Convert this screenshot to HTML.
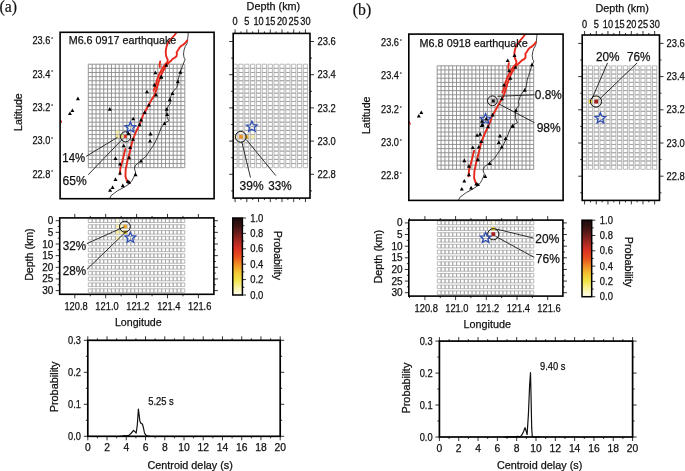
<!DOCTYPE html><html><head><meta charset="utf-8"><style>html,body{margin:0;padding:0;background:#fff;overflow:hidden}svg{display:block;will-change:transform}</style></head><body>
<svg width="685" height="471" viewBox="0 0 685 471" shape-rendering="auto">
<rect width="685" height="471" fill="#fff"/>
<clipPath id="cma"><rect x="60.1" y="32.3" width="154" height="166.4"/></clipPath>
<g clip-path="url(#cma)">
<path d="M88.3 64.2V167.7M92.16 64.2V167.7M96.02 64.2V167.7M99.88 64.2V167.7M103.74 64.2V167.7M107.6 64.2V167.7M111.46 64.2V167.7M115.32 64.2V167.7M119.18 64.2V167.7M123.04 64.2V167.7M126.9 64.2V167.7M130.76 64.2V167.7M134.62 64.2V167.7M138.48 64.2V167.7M142.34 64.2V167.7M146.2 64.2V167.7M150.06 64.2V167.7M153.92 64.2V167.7M157.78 64.2V167.7M161.64 64.2V167.7M165.5 64.2V167.7M169.36 64.2V167.7M173.22 64.2V167.7M177.08 64.2V167.7M180.94 64.2V167.7M184.8 64.2V167.7M88.3 64.2H184.8M88.3 68.34H184.8M88.3 72.48H184.8M88.3 76.62H184.8M88.3 80.76H184.8M88.3 84.9H184.8M88.3 89.04H184.8M88.3 93.18H184.8M88.3 97.32H184.8M88.3 101.46H184.8M88.3 105.6H184.8M88.3 109.74H184.8M88.3 113.88H184.8M88.3 118.02H184.8M88.3 122.16H184.8M88.3 126.3H184.8M88.3 130.44H184.8M88.3 134.58H184.8M88.3 138.72H184.8M88.3 142.86H184.8M88.3 147H184.8M88.3 151.14H184.8M88.3 155.28H184.8M88.3 159.42H184.8M88.3 163.56H184.8M88.3 167.7H184.8" fill="none" stroke="#8a8a8a" stroke-width="0.9"/>
<rect x="116.1" y="130.5" width="3" height="3.2" fill="#f6eea0"/>
<rect x="116.1" y="134.8" width="3" height="3.2" fill="#f4e890"/>
<rect x="120" y="134.8" width="3" height="3.2" fill="#f0e27a"/>
<rect x="123.9" y="134.8" width="3" height="3.2" fill="#e23a22"/>
<polyline points="188.2,32.5 188.1,35 187.5,40.7 186.9,43.6 185.2,46.5 184.1,49.9 183.5,53.9 184.1,57.9 185.2,59.1 184.1,62 182.5,66.1 180.9,70.4 179.8,74.6 179.4,75 178.3,79.2 177.8,83.5 176.7,87.7 174.6,89.9 172.5,92.5 170.9,96.2 169.8,100 170.4,103.7 168.2,105.8 167.2,109 166.6,113.2 167.2,117.5 168.8,120.7 166.1,122.3 164.4,123.4 161.1,127.6 159.4,132.7 156.8,138.7 153.4,145.5 149.2,151.4 145.8,156.5 141.6,160 139,162.5 135.7,165.1 134.4,168.1 134.8,170.2 135.7,171.9 134.4,175.7 133.5,177.8 131.8,180.8 129.3,183.8 125.5,186.3 122.1,188.4 117.8,190.6 114.4,193.1 111,195.7 109.8,198.6" fill="none" stroke="#111" stroke-width="0.8" stroke-linejoin="round" stroke-linecap="round" />
<polyline points="176.5,32.5 174.6,35 169.7,40.7 167.5,43.6 166.3,47.6 165.7,51.6 166,55.6 166.9,57.9 167.7,59.7 167.5,62 165.5,64 162.8,67.7 160.7,71.4 158.6,75.7 157,80 156,84 154.8,88 153.6,90.6" fill="none" stroke="#e8271b" stroke-width="1.9" stroke-linejoin="round" stroke-linecap="round" />
<polyline points="187.2,40.4 185.2,43 182.9,45 181.2,45.9 179.8,47.3 178.9,48.8 177.8,50.5 176.6,52.2 176.9,53.9 176.6,56.2 174.9,57.6 173.2,58.5 171.5,60.2 169.7,61.9 167.1,64.5 165,67.7 162.8,71.4 161.3,75 159.2,80.3 157.6,85.6 156,90.9 154.4,95.2 151.8,99.4 149.1,104.2 146.5,109 144.3,112.7 142.7,115.9 141.5,120 139,125.9 136.4,131 133.9,137 132.2,142.1 130.5,148.9 128.8,155.7 127.1,162.5 125.7,169.3 125.4,176.1 126.7,180.3 128.8,182.8" fill="none" stroke="#e8271b" stroke-width="1.9" stroke-linejoin="round" stroke-linecap="round" />
<polyline points="160.2,61.5 159.6,64.5 159.8,67" fill="none" stroke="#e8271b" stroke-width="1.9" stroke-linejoin="round" stroke-linecap="round" />
<polyline points="125.4,148.9 123.7,155.7 122,162.5 120.3,168.4 119.9,174.4" fill="none" stroke="#e8271b" stroke-width="1.9" stroke-linejoin="round" stroke-linecap="round" />
<polyline points="60.6,120.2 61.4,122.2" fill="none" stroke="#e8271b" stroke-width="1.4" stroke-linejoin="round" stroke-linecap="round" />
<path d="M130.4 121.9L131.88 125.46L135.73 125.77L132.8 128.28L133.69 132.03L130.4 130.02L127.11 132.03L128 128.28L125.07 125.77L128.92 125.46Z" fill="none" stroke="#2c4cb0" stroke-width="1.25" stroke-linejoin="miter"/>
<path d="M126.2 135.2L130.2 135.2L128.2 131.6Z" fill="#000"/>
<path d="M164.3 66.8L168.3 66.8L166.3 63.2Z" fill="#000"/>
<path d="M153.4 74.3L157.4 74.3L155.4 70.7Z" fill="#000"/>
<path d="M159.2 78.5L163.2 78.5L161.2 74.9Z" fill="#000"/>
<path d="M178.4 73.7L182.4 73.7L180.4 70.1Z" fill="#000"/>
<path d="M152.4 86.4L156.4 86.4L154.4 82.8Z" fill="#000"/>
<path d="M145 93.3L149 93.3L147 89.7Z" fill="#000"/>
<path d="M154 96.4L158 96.4L156 92.8Z" fill="#000"/>
<path d="M159.3 78.4L163.3 78.4L161.3 74.8Z" fill="#000"/>
<path d="M175.8 83.2L179.8 83.2L177.8 79.6Z" fill="#000"/>
<path d="M170.5 94.9L174.5 94.9L172.5 91.3Z" fill="#000"/>
<path d="M167.8 101.2L171.8 101.2L169.8 97.6Z" fill="#000"/>
<path d="M146.9 106.5L150.9 106.5L148.9 102.9Z" fill="#000"/>
<path d="M142.7 114L146.7 114L144.7 110.4Z" fill="#000"/>
<path d="M164.6 110.8L168.6 110.8L166.6 107.2Z" fill="#000"/>
<path d="M165.2 116.1L169.2 116.1L167.2 112.5Z" fill="#000"/>
<path d="M131.2 120.3L135.2 120.3L133.2 116.7Z" fill="#000"/>
<path d="M139.1 121.4L143.1 121.4L141.1 117.8Z" fill="#000"/>
<path d="M162.5 125.1L166.5 125.1L164.5 121.5Z" fill="#000"/>
<path d="M137.6 126.2L141.6 126.2L139.6 122.6Z" fill="#000"/>
<path d="M70.4 112L74.4 112L72.4 108.4Z" fill="#000"/>
<path d="M67.9 115L71.9 115L69.9 111.4Z" fill="#000"/>
<path d="M107.8 110.7L111.8 110.7L109.8 107.1Z" fill="#000"/>
<path d="M75.9 100.2L79.9 100.2L77.9 96.6Z" fill="#000"/>
<path d="M131 140.8L135 140.8L133 137.2Z" fill="#000"/>
<path d="M121.7 147.3L125.7 147.3L123.7 143.7Z" fill="#000"/>
<path d="M128.1 149L132.1 149L130.1 145.4Z" fill="#000"/>
<path d="M148.5 135.4L152.5 135.4L150.5 131.8Z" fill="#000"/>
<path d="M148 142.5L152 142.5L150 138.9Z" fill="#000"/>
<path d="M113.5 160L117.5 160L115.5 156.4Z" fill="#000"/>
<path d="M127.1 159.2L131.1 159.2L129.1 155.6Z" fill="#000"/>
<path d="M118 165.6L122 165.6L120 162Z" fill="#000"/>
<path d="M139 162.6L143 162.6L141 159Z" fill="#000"/>
<path d="M133.6 176.2L137.6 176.2L135.6 172.6Z" fill="#000"/>
<path d="M118 174.5L122 174.5L120 170.9Z" fill="#000"/>
<path d="M113.5 180.9L117.5 180.9L115.5 177.3Z" fill="#000"/>
<path d="M125.9 182.9L129.9 182.9L127.9 179.3Z" fill="#000"/>
<path d="M127.1 183.8L131.1 183.8L129.1 180.2Z" fill="#000"/>
<path d="M120.8 187.2L124.8 187.2L122.8 183.6Z" fill="#000"/>
<path d="M110.6 188.9L114.6 188.9L112.6 185.3Z" fill="#000"/>
<path d="M108.1 191.8L112.1 191.8L110.1 188.2Z" fill="#000"/>
</g>
<rect x="60.1" y="32.3" width="154" height="166.4" fill="none" stroke="#000" stroke-width="1.6"/>
<text x="68.7" y="44.3" font-size="10.9" font-family='"Liberation Sans", sans-serif' fill="#111" stroke="#111" stroke-width="0.25" textLength="107.6" lengthAdjust="spacingAndGlyphs" >M6.6 0917 earthquake</text>
<text x="50.3" y="44.2" font-size="10.4" font-family='"Liberation Sans", sans-serif' fill="#111" stroke="#111" stroke-width="0.25" text-anchor="end" textLength="17.9" lengthAdjust="spacingAndGlyphs" >23.6</text>
<text x="51.1" y="41" font-size="5.5" font-family='"Liberation Sans", sans-serif' fill="#111" stroke="#111" stroke-width="0.1" >°</text>
<text x="50.3" y="77.55" font-size="10.4" font-family='"Liberation Sans", sans-serif' fill="#111" stroke="#111" stroke-width="0.25" text-anchor="end" textLength="17.9" lengthAdjust="spacingAndGlyphs" >23.4</text>
<text x="51.1" y="74.35" font-size="5.5" font-family='"Liberation Sans", sans-serif' fill="#111" stroke="#111" stroke-width="0.1" >°</text>
<text x="50.3" y="110.9" font-size="10.4" font-family='"Liberation Sans", sans-serif' fill="#111" stroke="#111" stroke-width="0.25" text-anchor="end" textLength="17.9" lengthAdjust="spacingAndGlyphs" >23.2</text>
<text x="51.1" y="107.7" font-size="5.5" font-family='"Liberation Sans", sans-serif' fill="#111" stroke="#111" stroke-width="0.1" >°</text>
<text x="50.3" y="144.25" font-size="10.4" font-family='"Liberation Sans", sans-serif' fill="#111" stroke="#111" stroke-width="0.25" text-anchor="end" textLength="17.9" lengthAdjust="spacingAndGlyphs" >23.0</text>
<text x="51.1" y="141.05" font-size="5.5" font-family='"Liberation Sans", sans-serif' fill="#111" stroke="#111" stroke-width="0.1" >°</text>
<text x="50.3" y="177.6" font-size="10.4" font-family='"Liberation Sans", sans-serif' fill="#111" stroke="#111" stroke-width="0.25" text-anchor="end" textLength="17.9" lengthAdjust="spacingAndGlyphs" >22.8</text>
<text x="51.1" y="174.4" font-size="5.5" font-family='"Liberation Sans", sans-serif' fill="#111" stroke="#111" stroke-width="0.1" >°</text>
<text x="22" y="112.1" font-size="10.8" font-family='"Liberation Sans", sans-serif' fill="#111" stroke="#111" stroke-width="0.25" text-anchor="middle" textLength="37.6" lengthAdjust="spacingAndGlyphs" transform="rotate(-90 22 112.1)" >Latitude</text>
<line x1="86.2" y1="156.3" x2="117.4" y2="137.4" stroke="#1a1a1a" stroke-width="0.9"/>
<line x1="88.2" y1="174.8" x2="122.4" y2="139.2" stroke="#1a1a1a" stroke-width="0.9"/>
<circle cx="125.6" cy="136.8" r="5.1" fill="none" stroke="#000" stroke-width="0.9"/>
<text x="62.3" y="162" font-size="12.8" font-family='"Liberation Sans", sans-serif' fill="#111" stroke="#111" stroke-width="0.25" textLength="22.8" lengthAdjust="spacingAndGlyphs" >14%</text>
<text x="62.5" y="184.5" font-size="12.8" font-family='"Liberation Sans", sans-serif' fill="#111" stroke="#111" stroke-width="0.25" textLength="24.2" lengthAdjust="spacingAndGlyphs" >65%</text>
<clipPath id="cda"><rect x="233.2" y="33.4" width="76.8" height="164.7"/></clipPath>
<g clip-path="url(#cda)">
<path d="M232.97 64.2h4.25v4.14h-4.25ZM232.97 68.34h4.25v4.14h-4.25ZM232.97 72.48h4.25v4.14h-4.25ZM232.97 76.62h4.25v4.14h-4.25ZM232.97 80.76h4.25v4.14h-4.25ZM232.97 84.9h4.25v4.14h-4.25ZM232.97 89.04h4.25v4.14h-4.25ZM232.97 93.18h4.25v4.14h-4.25ZM232.97 97.32h4.25v4.14h-4.25ZM232.97 101.46h4.25v4.14h-4.25ZM232.97 105.6h4.25v4.14h-4.25ZM232.97 109.74h4.25v4.14h-4.25ZM232.97 113.88h4.25v4.14h-4.25ZM232.97 118.02h4.25v4.14h-4.25ZM232.97 122.16h4.25v4.14h-4.25ZM232.97 126.3h4.25v4.14h-4.25ZM232.97 130.44h4.25v4.14h-4.25ZM232.97 134.58h4.25v4.14h-4.25ZM232.97 138.72h4.25v4.14h-4.25ZM232.97 142.86h4.25v4.14h-4.25ZM232.97 147h4.25v4.14h-4.25ZM232.97 151.14h4.25v4.14h-4.25ZM232.97 155.28h4.25v4.14h-4.25ZM232.97 159.42h4.25v4.14h-4.25ZM232.97 163.56h4.25v4.14h-4.25ZM238.84 64.2h4.25v4.14h-4.25ZM238.84 68.34h4.25v4.14h-4.25ZM238.84 72.48h4.25v4.14h-4.25ZM238.84 76.62h4.25v4.14h-4.25ZM238.84 80.76h4.25v4.14h-4.25ZM238.84 84.9h4.25v4.14h-4.25ZM238.84 89.04h4.25v4.14h-4.25ZM238.84 93.18h4.25v4.14h-4.25ZM238.84 97.32h4.25v4.14h-4.25ZM238.84 101.46h4.25v4.14h-4.25ZM238.84 105.6h4.25v4.14h-4.25ZM238.84 109.74h4.25v4.14h-4.25ZM238.84 113.88h4.25v4.14h-4.25ZM238.84 118.02h4.25v4.14h-4.25ZM238.84 122.16h4.25v4.14h-4.25ZM238.84 126.3h4.25v4.14h-4.25ZM238.84 130.44h4.25v4.14h-4.25ZM238.84 134.58h4.25v4.14h-4.25ZM238.84 138.72h4.25v4.14h-4.25ZM238.84 142.86h4.25v4.14h-4.25ZM238.84 147h4.25v4.14h-4.25ZM238.84 151.14h4.25v4.14h-4.25ZM238.84 155.28h4.25v4.14h-4.25ZM238.84 159.42h4.25v4.14h-4.25ZM238.84 163.56h4.25v4.14h-4.25ZM244.7 64.2h4.25v4.14h-4.25ZM244.7 68.34h4.25v4.14h-4.25ZM244.7 72.48h4.25v4.14h-4.25ZM244.7 76.62h4.25v4.14h-4.25ZM244.7 80.76h4.25v4.14h-4.25ZM244.7 84.9h4.25v4.14h-4.25ZM244.7 89.04h4.25v4.14h-4.25ZM244.7 93.18h4.25v4.14h-4.25ZM244.7 97.32h4.25v4.14h-4.25ZM244.7 101.46h4.25v4.14h-4.25ZM244.7 105.6h4.25v4.14h-4.25ZM244.7 109.74h4.25v4.14h-4.25ZM244.7 113.88h4.25v4.14h-4.25ZM244.7 118.02h4.25v4.14h-4.25ZM244.7 122.16h4.25v4.14h-4.25ZM244.7 126.3h4.25v4.14h-4.25ZM244.7 130.44h4.25v4.14h-4.25ZM244.7 134.58h4.25v4.14h-4.25ZM244.7 138.72h4.25v4.14h-4.25ZM244.7 142.86h4.25v4.14h-4.25ZM244.7 147h4.25v4.14h-4.25ZM244.7 151.14h4.25v4.14h-4.25ZM244.7 155.28h4.25v4.14h-4.25ZM244.7 159.42h4.25v4.14h-4.25ZM244.7 163.56h4.25v4.14h-4.25ZM250.56 64.2h4.25v4.14h-4.25ZM250.56 68.34h4.25v4.14h-4.25ZM250.56 72.48h4.25v4.14h-4.25ZM250.56 76.62h4.25v4.14h-4.25ZM250.56 80.76h4.25v4.14h-4.25ZM250.56 84.9h4.25v4.14h-4.25ZM250.56 89.04h4.25v4.14h-4.25ZM250.56 93.18h4.25v4.14h-4.25ZM250.56 97.32h4.25v4.14h-4.25ZM250.56 101.46h4.25v4.14h-4.25ZM250.56 105.6h4.25v4.14h-4.25ZM250.56 109.74h4.25v4.14h-4.25ZM250.56 113.88h4.25v4.14h-4.25ZM250.56 118.02h4.25v4.14h-4.25ZM250.56 122.16h4.25v4.14h-4.25ZM250.56 126.3h4.25v4.14h-4.25ZM250.56 130.44h4.25v4.14h-4.25ZM250.56 134.58h4.25v4.14h-4.25ZM250.56 138.72h4.25v4.14h-4.25ZM250.56 142.86h4.25v4.14h-4.25ZM250.56 147h4.25v4.14h-4.25ZM250.56 151.14h4.25v4.14h-4.25ZM250.56 155.28h4.25v4.14h-4.25ZM250.56 159.42h4.25v4.14h-4.25ZM250.56 163.56h4.25v4.14h-4.25ZM256.43 64.2h4.25v4.14h-4.25ZM256.43 68.34h4.25v4.14h-4.25ZM256.43 72.48h4.25v4.14h-4.25ZM256.43 76.62h4.25v4.14h-4.25ZM256.43 80.76h4.25v4.14h-4.25ZM256.43 84.9h4.25v4.14h-4.25ZM256.43 89.04h4.25v4.14h-4.25ZM256.43 93.18h4.25v4.14h-4.25ZM256.43 97.32h4.25v4.14h-4.25ZM256.43 101.46h4.25v4.14h-4.25ZM256.43 105.6h4.25v4.14h-4.25ZM256.43 109.74h4.25v4.14h-4.25ZM256.43 113.88h4.25v4.14h-4.25ZM256.43 118.02h4.25v4.14h-4.25ZM256.43 122.16h4.25v4.14h-4.25ZM256.43 126.3h4.25v4.14h-4.25ZM256.43 130.44h4.25v4.14h-4.25ZM256.43 134.58h4.25v4.14h-4.25ZM256.43 138.72h4.25v4.14h-4.25ZM256.43 142.86h4.25v4.14h-4.25ZM256.43 147h4.25v4.14h-4.25ZM256.43 151.14h4.25v4.14h-4.25ZM256.43 155.28h4.25v4.14h-4.25ZM256.43 159.42h4.25v4.14h-4.25ZM256.43 163.56h4.25v4.14h-4.25ZM262.29 64.2h4.25v4.14h-4.25ZM262.29 68.34h4.25v4.14h-4.25ZM262.29 72.48h4.25v4.14h-4.25ZM262.29 76.62h4.25v4.14h-4.25ZM262.29 80.76h4.25v4.14h-4.25ZM262.29 84.9h4.25v4.14h-4.25ZM262.29 89.04h4.25v4.14h-4.25ZM262.29 93.18h4.25v4.14h-4.25ZM262.29 97.32h4.25v4.14h-4.25ZM262.29 101.46h4.25v4.14h-4.25ZM262.29 105.6h4.25v4.14h-4.25ZM262.29 109.74h4.25v4.14h-4.25ZM262.29 113.88h4.25v4.14h-4.25ZM262.29 118.02h4.25v4.14h-4.25ZM262.29 122.16h4.25v4.14h-4.25ZM262.29 126.3h4.25v4.14h-4.25ZM262.29 130.44h4.25v4.14h-4.25ZM262.29 134.58h4.25v4.14h-4.25ZM262.29 138.72h4.25v4.14h-4.25ZM262.29 142.86h4.25v4.14h-4.25ZM262.29 147h4.25v4.14h-4.25ZM262.29 151.14h4.25v4.14h-4.25ZM262.29 155.28h4.25v4.14h-4.25ZM262.29 159.42h4.25v4.14h-4.25ZM262.29 163.56h4.25v4.14h-4.25ZM268.15 64.2h4.25v4.14h-4.25ZM268.15 68.34h4.25v4.14h-4.25ZM268.15 72.48h4.25v4.14h-4.25ZM268.15 76.62h4.25v4.14h-4.25ZM268.15 80.76h4.25v4.14h-4.25ZM268.15 84.9h4.25v4.14h-4.25ZM268.15 89.04h4.25v4.14h-4.25ZM268.15 93.18h4.25v4.14h-4.25ZM268.15 97.32h4.25v4.14h-4.25ZM268.15 101.46h4.25v4.14h-4.25ZM268.15 105.6h4.25v4.14h-4.25ZM268.15 109.74h4.25v4.14h-4.25ZM268.15 113.88h4.25v4.14h-4.25ZM268.15 118.02h4.25v4.14h-4.25ZM268.15 122.16h4.25v4.14h-4.25ZM268.15 126.3h4.25v4.14h-4.25ZM268.15 130.44h4.25v4.14h-4.25ZM268.15 134.58h4.25v4.14h-4.25ZM268.15 138.72h4.25v4.14h-4.25ZM268.15 142.86h4.25v4.14h-4.25ZM268.15 147h4.25v4.14h-4.25ZM268.15 151.14h4.25v4.14h-4.25ZM268.15 155.28h4.25v4.14h-4.25ZM268.15 159.42h4.25v4.14h-4.25ZM268.15 163.56h4.25v4.14h-4.25ZM274.01 64.2h4.25v4.14h-4.25ZM274.01 68.34h4.25v4.14h-4.25ZM274.01 72.48h4.25v4.14h-4.25ZM274.01 76.62h4.25v4.14h-4.25ZM274.01 80.76h4.25v4.14h-4.25ZM274.01 84.9h4.25v4.14h-4.25ZM274.01 89.04h4.25v4.14h-4.25ZM274.01 93.18h4.25v4.14h-4.25ZM274.01 97.32h4.25v4.14h-4.25ZM274.01 101.46h4.25v4.14h-4.25ZM274.01 105.6h4.25v4.14h-4.25ZM274.01 109.74h4.25v4.14h-4.25ZM274.01 113.88h4.25v4.14h-4.25ZM274.01 118.02h4.25v4.14h-4.25ZM274.01 122.16h4.25v4.14h-4.25ZM274.01 126.3h4.25v4.14h-4.25ZM274.01 130.44h4.25v4.14h-4.25ZM274.01 134.58h4.25v4.14h-4.25ZM274.01 138.72h4.25v4.14h-4.25ZM274.01 142.86h4.25v4.14h-4.25ZM274.01 147h4.25v4.14h-4.25ZM274.01 151.14h4.25v4.14h-4.25ZM274.01 155.28h4.25v4.14h-4.25ZM274.01 159.42h4.25v4.14h-4.25ZM274.01 163.56h4.25v4.14h-4.25ZM279.88 64.2h4.25v4.14h-4.25ZM279.88 68.34h4.25v4.14h-4.25ZM279.88 72.48h4.25v4.14h-4.25ZM279.88 76.62h4.25v4.14h-4.25ZM279.88 80.76h4.25v4.14h-4.25ZM279.88 84.9h4.25v4.14h-4.25ZM279.88 89.04h4.25v4.14h-4.25ZM279.88 93.18h4.25v4.14h-4.25ZM279.88 97.32h4.25v4.14h-4.25ZM279.88 101.46h4.25v4.14h-4.25ZM279.88 105.6h4.25v4.14h-4.25ZM279.88 109.74h4.25v4.14h-4.25ZM279.88 113.88h4.25v4.14h-4.25ZM279.88 118.02h4.25v4.14h-4.25ZM279.88 122.16h4.25v4.14h-4.25ZM279.88 126.3h4.25v4.14h-4.25ZM279.88 130.44h4.25v4.14h-4.25ZM279.88 134.58h4.25v4.14h-4.25ZM279.88 138.72h4.25v4.14h-4.25ZM279.88 142.86h4.25v4.14h-4.25ZM279.88 147h4.25v4.14h-4.25ZM279.88 151.14h4.25v4.14h-4.25ZM279.88 155.28h4.25v4.14h-4.25ZM279.88 159.42h4.25v4.14h-4.25ZM279.88 163.56h4.25v4.14h-4.25ZM285.74 64.2h4.25v4.14h-4.25ZM285.74 68.34h4.25v4.14h-4.25ZM285.74 72.48h4.25v4.14h-4.25ZM285.74 76.62h4.25v4.14h-4.25ZM285.74 80.76h4.25v4.14h-4.25ZM285.74 84.9h4.25v4.14h-4.25ZM285.74 89.04h4.25v4.14h-4.25ZM285.74 93.18h4.25v4.14h-4.25ZM285.74 97.32h4.25v4.14h-4.25ZM285.74 101.46h4.25v4.14h-4.25ZM285.74 105.6h4.25v4.14h-4.25ZM285.74 109.74h4.25v4.14h-4.25ZM285.74 113.88h4.25v4.14h-4.25ZM285.74 118.02h4.25v4.14h-4.25ZM285.74 122.16h4.25v4.14h-4.25ZM285.74 126.3h4.25v4.14h-4.25ZM285.74 130.44h4.25v4.14h-4.25ZM285.74 134.58h4.25v4.14h-4.25ZM285.74 138.72h4.25v4.14h-4.25ZM285.74 142.86h4.25v4.14h-4.25ZM285.74 147h4.25v4.14h-4.25ZM285.74 151.14h4.25v4.14h-4.25ZM285.74 155.28h4.25v4.14h-4.25ZM285.74 159.42h4.25v4.14h-4.25ZM285.74 163.56h4.25v4.14h-4.25ZM291.6 64.2h4.25v4.14h-4.25ZM291.6 68.34h4.25v4.14h-4.25ZM291.6 72.48h4.25v4.14h-4.25ZM291.6 76.62h4.25v4.14h-4.25ZM291.6 80.76h4.25v4.14h-4.25ZM291.6 84.9h4.25v4.14h-4.25ZM291.6 89.04h4.25v4.14h-4.25ZM291.6 93.18h4.25v4.14h-4.25ZM291.6 97.32h4.25v4.14h-4.25ZM291.6 101.46h4.25v4.14h-4.25ZM291.6 105.6h4.25v4.14h-4.25ZM291.6 109.74h4.25v4.14h-4.25ZM291.6 113.88h4.25v4.14h-4.25ZM291.6 118.02h4.25v4.14h-4.25ZM291.6 122.16h4.25v4.14h-4.25ZM291.6 126.3h4.25v4.14h-4.25ZM291.6 130.44h4.25v4.14h-4.25ZM291.6 134.58h4.25v4.14h-4.25ZM291.6 138.72h4.25v4.14h-4.25ZM291.6 142.86h4.25v4.14h-4.25ZM291.6 147h4.25v4.14h-4.25ZM291.6 151.14h4.25v4.14h-4.25ZM291.6 155.28h4.25v4.14h-4.25ZM291.6 159.42h4.25v4.14h-4.25ZM291.6 163.56h4.25v4.14h-4.25ZM297.46 64.2h4.25v4.14h-4.25ZM297.46 68.34h4.25v4.14h-4.25ZM297.46 72.48h4.25v4.14h-4.25ZM297.46 76.62h4.25v4.14h-4.25ZM297.46 80.76h4.25v4.14h-4.25ZM297.46 84.9h4.25v4.14h-4.25ZM297.46 89.04h4.25v4.14h-4.25ZM297.46 93.18h4.25v4.14h-4.25ZM297.46 97.32h4.25v4.14h-4.25ZM297.46 101.46h4.25v4.14h-4.25ZM297.46 105.6h4.25v4.14h-4.25ZM297.46 109.74h4.25v4.14h-4.25ZM297.46 113.88h4.25v4.14h-4.25ZM297.46 118.02h4.25v4.14h-4.25ZM297.46 122.16h4.25v4.14h-4.25ZM297.46 126.3h4.25v4.14h-4.25ZM297.46 130.44h4.25v4.14h-4.25ZM297.46 134.58h4.25v4.14h-4.25ZM297.46 138.72h4.25v4.14h-4.25ZM297.46 142.86h4.25v4.14h-4.25ZM297.46 147h4.25v4.14h-4.25ZM297.46 151.14h4.25v4.14h-4.25ZM297.46 155.28h4.25v4.14h-4.25ZM297.46 159.42h4.25v4.14h-4.25ZM297.46 163.56h4.25v4.14h-4.25ZM303.32 64.2h4.25v4.14h-4.25ZM303.32 68.34h4.25v4.14h-4.25ZM303.32 72.48h4.25v4.14h-4.25ZM303.32 76.62h4.25v4.14h-4.25ZM303.32 80.76h4.25v4.14h-4.25ZM303.32 84.9h4.25v4.14h-4.25ZM303.32 89.04h4.25v4.14h-4.25ZM303.32 93.18h4.25v4.14h-4.25ZM303.32 97.32h4.25v4.14h-4.25ZM303.32 101.46h4.25v4.14h-4.25ZM303.32 105.6h4.25v4.14h-4.25ZM303.32 109.74h4.25v4.14h-4.25ZM303.32 113.88h4.25v4.14h-4.25ZM303.32 118.02h4.25v4.14h-4.25ZM303.32 122.16h4.25v4.14h-4.25ZM303.32 126.3h4.25v4.14h-4.25ZM303.32 130.44h4.25v4.14h-4.25ZM303.32 134.58h4.25v4.14h-4.25ZM303.32 138.72h4.25v4.14h-4.25ZM303.32 142.86h4.25v4.14h-4.25ZM303.32 147h4.25v4.14h-4.25ZM303.32 151.14h4.25v4.14h-4.25ZM303.32 155.28h4.25v4.14h-4.25ZM303.32 159.42h4.25v4.14h-4.25ZM303.32 163.56h4.25v4.14h-4.25Z" fill="none" stroke="#9c9c9c" stroke-width="0.7"/>
<rect x="239.1" y="135.1" width="3.8" height="3.6" fill="#f09224"/>
<rect x="245.15" y="135.2" width="3.4" height="3.4" fill="#e9b233"/>
<rect x="250.9" y="135.2" width="3.6" height="3.4" fill="#f8f0a8"/>
<rect x="239.2" y="131.2" width="3.6" height="3" fill="#fbf6dc"/>
<rect x="233.4" y="135.2" width="3.6" height="3.4" fill="#f8f0b8"/>
</g>
<rect x="233.2" y="33.4" width="76.8" height="164.7" fill="none" stroke="#000" stroke-width="1.6"/>
<line x1="235.1" y1="33.4" x2="235.1" y2="29.4" stroke="#000" stroke-width="0.8"/>
<line x1="235.1" y1="198.1" x2="235.1" y2="202.1" stroke="#000" stroke-width="0.8"/>
<line x1="240.96" y1="33.4" x2="240.96" y2="31.4" stroke="#000" stroke-width="0.8"/>
<line x1="240.96" y1="198.1" x2="240.96" y2="200.1" stroke="#000" stroke-width="0.8"/>
<line x1="246.82" y1="33.4" x2="246.82" y2="29.4" stroke="#000" stroke-width="0.8"/>
<line x1="246.82" y1="198.1" x2="246.82" y2="202.1" stroke="#000" stroke-width="0.8"/>
<line x1="252.69" y1="33.4" x2="252.69" y2="31.4" stroke="#000" stroke-width="0.8"/>
<line x1="252.69" y1="198.1" x2="252.69" y2="200.1" stroke="#000" stroke-width="0.8"/>
<line x1="258.55" y1="33.4" x2="258.55" y2="29.4" stroke="#000" stroke-width="0.8"/>
<line x1="258.55" y1="198.1" x2="258.55" y2="202.1" stroke="#000" stroke-width="0.8"/>
<line x1="264.41" y1="33.4" x2="264.41" y2="31.4" stroke="#000" stroke-width="0.8"/>
<line x1="264.41" y1="198.1" x2="264.41" y2="200.1" stroke="#000" stroke-width="0.8"/>
<line x1="270.27" y1="33.4" x2="270.27" y2="29.4" stroke="#000" stroke-width="0.8"/>
<line x1="270.27" y1="198.1" x2="270.27" y2="202.1" stroke="#000" stroke-width="0.8"/>
<line x1="276.14" y1="33.4" x2="276.14" y2="31.4" stroke="#000" stroke-width="0.8"/>
<line x1="276.14" y1="198.1" x2="276.14" y2="200.1" stroke="#000" stroke-width="0.8"/>
<line x1="282" y1="33.4" x2="282" y2="29.4" stroke="#000" stroke-width="0.8"/>
<line x1="282" y1="198.1" x2="282" y2="202.1" stroke="#000" stroke-width="0.8"/>
<line x1="287.86" y1="33.4" x2="287.86" y2="31.4" stroke="#000" stroke-width="0.8"/>
<line x1="287.86" y1="198.1" x2="287.86" y2="200.1" stroke="#000" stroke-width="0.8"/>
<line x1="293.73" y1="33.4" x2="293.73" y2="29.4" stroke="#000" stroke-width="0.8"/>
<line x1="293.73" y1="198.1" x2="293.73" y2="202.1" stroke="#000" stroke-width="0.8"/>
<line x1="299.59" y1="33.4" x2="299.59" y2="31.4" stroke="#000" stroke-width="0.8"/>
<line x1="299.59" y1="198.1" x2="299.59" y2="200.1" stroke="#000" stroke-width="0.8"/>
<line x1="305.45" y1="33.4" x2="305.45" y2="29.4" stroke="#000" stroke-width="0.8"/>
<line x1="305.45" y1="198.1" x2="305.45" y2="202.1" stroke="#000" stroke-width="0.8"/>
<text x="0" y="0" font-size="9.2" font-family='"Liberation Sans", sans-serif' fill="#111" stroke="#111" stroke-width="0.25" text-anchor="middle" transform="translate(235.1 25.3) scale(1 1.12)" >0</text>
<text x="0" y="0" font-size="9.2" font-family='"Liberation Sans", sans-serif' fill="#111" stroke="#111" stroke-width="0.25" text-anchor="middle" transform="translate(246.82 25.3) scale(1 1.12)" >5</text>
<text x="0" y="0" font-size="9.2" font-family='"Liberation Sans", sans-serif' fill="#111" stroke="#111" stroke-width="0.25" text-anchor="middle" transform="translate(258.55 25.3) scale(1 1.12)" >10</text>
<text x="0" y="0" font-size="9.2" font-family='"Liberation Sans", sans-serif' fill="#111" stroke="#111" stroke-width="0.25" text-anchor="middle" transform="translate(270.27 25.3) scale(1 1.12)" >15</text>
<text x="0" y="0" font-size="9.2" font-family='"Liberation Sans", sans-serif' fill="#111" stroke="#111" stroke-width="0.25" text-anchor="middle" transform="translate(282 25.3) scale(1 1.12)" >20</text>
<text x="0" y="0" font-size="9.2" font-family='"Liberation Sans", sans-serif' fill="#111" stroke="#111" stroke-width="0.25" text-anchor="middle" transform="translate(293.73 25.3) scale(1 1.12)" >25</text>
<text x="0" y="0" font-size="9.2" font-family='"Liberation Sans", sans-serif' fill="#111" stroke="#111" stroke-width="0.25" text-anchor="middle" transform="translate(305.45 25.3) scale(1 1.12)" >30</text>
<text x="273.4" y="9.9" font-size="10.6" font-family='"Liberation Sans", sans-serif' fill="#111" stroke="#111" stroke-width="0.25" text-anchor="middle" textLength="53.6" lengthAdjust="spacingAndGlyphs" >Depth (km)</text>
<line x1="233.2" y1="41.5" x2="229.2" y2="41.5" stroke="#000" stroke-width="0.8"/>
<line x1="310" y1="41.5" x2="314" y2="41.5" stroke="#000" stroke-width="0.8"/>
<line x1="233.2" y1="58.1" x2="231.2" y2="58.1" stroke="#000" stroke-width="0.8"/>
<line x1="310" y1="58.1" x2="312" y2="58.1" stroke="#000" stroke-width="0.8"/>
<line x1="233.2" y1="74.7" x2="229.2" y2="74.7" stroke="#000" stroke-width="0.8"/>
<line x1="310" y1="74.7" x2="314" y2="74.7" stroke="#000" stroke-width="0.8"/>
<line x1="233.2" y1="91.3" x2="231.2" y2="91.3" stroke="#000" stroke-width="0.8"/>
<line x1="310" y1="91.3" x2="312" y2="91.3" stroke="#000" stroke-width="0.8"/>
<line x1="233.2" y1="107.9" x2="229.2" y2="107.9" stroke="#000" stroke-width="0.8"/>
<line x1="310" y1="107.9" x2="314" y2="107.9" stroke="#000" stroke-width="0.8"/>
<line x1="233.2" y1="124.5" x2="231.2" y2="124.5" stroke="#000" stroke-width="0.8"/>
<line x1="310" y1="124.5" x2="312" y2="124.5" stroke="#000" stroke-width="0.8"/>
<line x1="233.2" y1="141.1" x2="229.2" y2="141.1" stroke="#000" stroke-width="0.8"/>
<line x1="310" y1="141.1" x2="314" y2="141.1" stroke="#000" stroke-width="0.8"/>
<line x1="233.2" y1="157.7" x2="231.2" y2="157.7" stroke="#000" stroke-width="0.8"/>
<line x1="310" y1="157.7" x2="312" y2="157.7" stroke="#000" stroke-width="0.8"/>
<line x1="233.2" y1="174.3" x2="229.2" y2="174.3" stroke="#000" stroke-width="0.8"/>
<line x1="310" y1="174.3" x2="314" y2="174.3" stroke="#000" stroke-width="0.8"/>
<line x1="233.2" y1="190.9" x2="231.2" y2="190.9" stroke="#000" stroke-width="0.8"/>
<line x1="310" y1="190.9" x2="312" y2="190.9" stroke="#000" stroke-width="0.8"/>
<text x="317.5" y="45.1" font-size="10.3" font-family='"Liberation Sans", sans-serif' fill="#111" stroke="#111" stroke-width="0.25" textLength="18.2" lengthAdjust="spacingAndGlyphs" >23.6</text>
<text x="317.5" y="78.3" font-size="10.3" font-family='"Liberation Sans", sans-serif' fill="#111" stroke="#111" stroke-width="0.25" textLength="18.2" lengthAdjust="spacingAndGlyphs" >23.4</text>
<text x="317.5" y="111.5" font-size="10.3" font-family='"Liberation Sans", sans-serif' fill="#111" stroke="#111" stroke-width="0.25" textLength="18.2" lengthAdjust="spacingAndGlyphs" >23.2</text>
<text x="317.5" y="144.7" font-size="10.3" font-family='"Liberation Sans", sans-serif' fill="#111" stroke="#111" stroke-width="0.25" textLength="18.2" lengthAdjust="spacingAndGlyphs" >23.0</text>
<text x="317.5" y="177.9" font-size="10.3" font-family='"Liberation Sans", sans-serif' fill="#111" stroke="#111" stroke-width="0.25" textLength="18.2" lengthAdjust="spacingAndGlyphs" >22.8</text>
<line x1="241.8" y1="141.8" x2="250.5" y2="177.6" stroke="#1a1a1a" stroke-width="0.9"/>
<line x1="246.3" y1="139.6" x2="275.8" y2="175.6" stroke="#1a1a1a" stroke-width="0.9"/>
<circle cx="240.8" cy="136.8" r="5.4" fill="none" stroke="#000" stroke-width="0.9"/>
<path d="M251.9 121.2L253.38 124.76L257.23 125.07L254.3 127.58L255.19 131.33L251.9 129.32L248.61 131.33L249.5 127.58L246.57 125.07L250.42 124.76Z" fill="none" stroke="#2c4cb0" stroke-width="1.25" stroke-linejoin="miter"/>
<text x="239.6" y="189.5" font-size="12.8" font-family='"Liberation Sans", sans-serif' fill="#111" stroke="#111" stroke-width="0.25" textLength="24" lengthAdjust="spacingAndGlyphs" >39%</text>
<text x="268.3" y="189.5" font-size="12.8" font-family='"Liberation Sans", sans-serif' fill="#111" stroke="#111" stroke-width="0.25" textLength="23.4" lengthAdjust="spacingAndGlyphs" >33%</text>
<clipPath id="cla"><rect x="59.7" y="217.9" width="154.2" height="76.4"/></clipPath>
<g clip-path="url(#cla)">
<path d="M88.3 218.9h3.86v3.6h-3.86ZM88.3 224.72h3.86v3.6h-3.86ZM88.3 230.55h3.86v3.6h-3.86ZM88.3 236.37h3.86v3.6h-3.86ZM88.3 242.2h3.86v3.6h-3.86ZM88.3 248.02h3.86v3.6h-3.86ZM88.3 253.85h3.86v3.6h-3.86ZM88.3 259.67h3.86v3.6h-3.86ZM88.3 265.5h3.86v3.6h-3.86ZM88.3 271.32h3.86v3.6h-3.86ZM88.3 277.15h3.86v3.6h-3.86ZM88.3 282.97h3.86v3.6h-3.86ZM88.3 288.8h3.86v3.6h-3.86ZM92.16 218.9h3.86v3.6h-3.86ZM92.16 224.72h3.86v3.6h-3.86ZM92.16 230.55h3.86v3.6h-3.86ZM92.16 236.37h3.86v3.6h-3.86ZM92.16 242.2h3.86v3.6h-3.86ZM92.16 248.02h3.86v3.6h-3.86ZM92.16 253.85h3.86v3.6h-3.86ZM92.16 259.67h3.86v3.6h-3.86ZM92.16 265.5h3.86v3.6h-3.86ZM92.16 271.32h3.86v3.6h-3.86ZM92.16 277.15h3.86v3.6h-3.86ZM92.16 282.97h3.86v3.6h-3.86ZM92.16 288.8h3.86v3.6h-3.86ZM96.02 218.9h3.86v3.6h-3.86ZM96.02 224.72h3.86v3.6h-3.86ZM96.02 230.55h3.86v3.6h-3.86ZM96.02 236.37h3.86v3.6h-3.86ZM96.02 242.2h3.86v3.6h-3.86ZM96.02 248.02h3.86v3.6h-3.86ZM96.02 253.85h3.86v3.6h-3.86ZM96.02 259.67h3.86v3.6h-3.86ZM96.02 265.5h3.86v3.6h-3.86ZM96.02 271.32h3.86v3.6h-3.86ZM96.02 277.15h3.86v3.6h-3.86ZM96.02 282.97h3.86v3.6h-3.86ZM96.02 288.8h3.86v3.6h-3.86ZM99.88 218.9h3.86v3.6h-3.86ZM99.88 224.72h3.86v3.6h-3.86ZM99.88 230.55h3.86v3.6h-3.86ZM99.88 236.37h3.86v3.6h-3.86ZM99.88 242.2h3.86v3.6h-3.86ZM99.88 248.02h3.86v3.6h-3.86ZM99.88 253.85h3.86v3.6h-3.86ZM99.88 259.67h3.86v3.6h-3.86ZM99.88 265.5h3.86v3.6h-3.86ZM99.88 271.32h3.86v3.6h-3.86ZM99.88 277.15h3.86v3.6h-3.86ZM99.88 282.97h3.86v3.6h-3.86ZM99.88 288.8h3.86v3.6h-3.86ZM103.74 218.9h3.86v3.6h-3.86ZM103.74 224.72h3.86v3.6h-3.86ZM103.74 230.55h3.86v3.6h-3.86ZM103.74 236.37h3.86v3.6h-3.86ZM103.74 242.2h3.86v3.6h-3.86ZM103.74 248.02h3.86v3.6h-3.86ZM103.74 253.85h3.86v3.6h-3.86ZM103.74 259.67h3.86v3.6h-3.86ZM103.74 265.5h3.86v3.6h-3.86ZM103.74 271.32h3.86v3.6h-3.86ZM103.74 277.15h3.86v3.6h-3.86ZM103.74 282.97h3.86v3.6h-3.86ZM103.74 288.8h3.86v3.6h-3.86ZM107.6 218.9h3.86v3.6h-3.86ZM107.6 224.72h3.86v3.6h-3.86ZM107.6 230.55h3.86v3.6h-3.86ZM107.6 236.37h3.86v3.6h-3.86ZM107.6 242.2h3.86v3.6h-3.86ZM107.6 248.02h3.86v3.6h-3.86ZM107.6 253.85h3.86v3.6h-3.86ZM107.6 259.67h3.86v3.6h-3.86ZM107.6 265.5h3.86v3.6h-3.86ZM107.6 271.32h3.86v3.6h-3.86ZM107.6 277.15h3.86v3.6h-3.86ZM107.6 282.97h3.86v3.6h-3.86ZM107.6 288.8h3.86v3.6h-3.86ZM111.46 218.9h3.86v3.6h-3.86ZM111.46 224.72h3.86v3.6h-3.86ZM111.46 230.55h3.86v3.6h-3.86ZM111.46 236.37h3.86v3.6h-3.86ZM111.46 242.2h3.86v3.6h-3.86ZM111.46 248.02h3.86v3.6h-3.86ZM111.46 253.85h3.86v3.6h-3.86ZM111.46 259.67h3.86v3.6h-3.86ZM111.46 265.5h3.86v3.6h-3.86ZM111.46 271.32h3.86v3.6h-3.86ZM111.46 277.15h3.86v3.6h-3.86ZM111.46 282.97h3.86v3.6h-3.86ZM111.46 288.8h3.86v3.6h-3.86ZM115.32 218.9h3.86v3.6h-3.86ZM115.32 224.72h3.86v3.6h-3.86ZM115.32 230.55h3.86v3.6h-3.86ZM115.32 236.37h3.86v3.6h-3.86ZM115.32 242.2h3.86v3.6h-3.86ZM115.32 248.02h3.86v3.6h-3.86ZM115.32 253.85h3.86v3.6h-3.86ZM115.32 259.67h3.86v3.6h-3.86ZM115.32 265.5h3.86v3.6h-3.86ZM115.32 271.32h3.86v3.6h-3.86ZM115.32 277.15h3.86v3.6h-3.86ZM115.32 282.97h3.86v3.6h-3.86ZM115.32 288.8h3.86v3.6h-3.86ZM119.18 218.9h3.86v3.6h-3.86ZM119.18 224.72h3.86v3.6h-3.86ZM119.18 230.55h3.86v3.6h-3.86ZM119.18 236.37h3.86v3.6h-3.86ZM119.18 242.2h3.86v3.6h-3.86ZM119.18 248.02h3.86v3.6h-3.86ZM119.18 253.85h3.86v3.6h-3.86ZM119.18 259.67h3.86v3.6h-3.86ZM119.18 265.5h3.86v3.6h-3.86ZM119.18 271.32h3.86v3.6h-3.86ZM119.18 277.15h3.86v3.6h-3.86ZM119.18 282.97h3.86v3.6h-3.86ZM119.18 288.8h3.86v3.6h-3.86ZM123.04 218.9h3.86v3.6h-3.86ZM123.04 224.72h3.86v3.6h-3.86ZM123.04 230.55h3.86v3.6h-3.86ZM123.04 236.37h3.86v3.6h-3.86ZM123.04 242.2h3.86v3.6h-3.86ZM123.04 248.02h3.86v3.6h-3.86ZM123.04 253.85h3.86v3.6h-3.86ZM123.04 259.67h3.86v3.6h-3.86ZM123.04 265.5h3.86v3.6h-3.86ZM123.04 271.32h3.86v3.6h-3.86ZM123.04 277.15h3.86v3.6h-3.86ZM123.04 282.97h3.86v3.6h-3.86ZM123.04 288.8h3.86v3.6h-3.86ZM126.9 218.9h3.86v3.6h-3.86ZM126.9 224.72h3.86v3.6h-3.86ZM126.9 230.55h3.86v3.6h-3.86ZM126.9 236.37h3.86v3.6h-3.86ZM126.9 242.2h3.86v3.6h-3.86ZM126.9 248.02h3.86v3.6h-3.86ZM126.9 253.85h3.86v3.6h-3.86ZM126.9 259.67h3.86v3.6h-3.86ZM126.9 265.5h3.86v3.6h-3.86ZM126.9 271.32h3.86v3.6h-3.86ZM126.9 277.15h3.86v3.6h-3.86ZM126.9 282.97h3.86v3.6h-3.86ZM126.9 288.8h3.86v3.6h-3.86ZM130.76 218.9h3.86v3.6h-3.86ZM130.76 224.72h3.86v3.6h-3.86ZM130.76 230.55h3.86v3.6h-3.86ZM130.76 236.37h3.86v3.6h-3.86ZM130.76 242.2h3.86v3.6h-3.86ZM130.76 248.02h3.86v3.6h-3.86ZM130.76 253.85h3.86v3.6h-3.86ZM130.76 259.67h3.86v3.6h-3.86ZM130.76 265.5h3.86v3.6h-3.86ZM130.76 271.32h3.86v3.6h-3.86ZM130.76 277.15h3.86v3.6h-3.86ZM130.76 282.97h3.86v3.6h-3.86ZM130.76 288.8h3.86v3.6h-3.86ZM134.62 218.9h3.86v3.6h-3.86ZM134.62 224.72h3.86v3.6h-3.86ZM134.62 230.55h3.86v3.6h-3.86ZM134.62 236.37h3.86v3.6h-3.86ZM134.62 242.2h3.86v3.6h-3.86ZM134.62 248.02h3.86v3.6h-3.86ZM134.62 253.85h3.86v3.6h-3.86ZM134.62 259.67h3.86v3.6h-3.86ZM134.62 265.5h3.86v3.6h-3.86ZM134.62 271.32h3.86v3.6h-3.86ZM134.62 277.15h3.86v3.6h-3.86ZM134.62 282.97h3.86v3.6h-3.86ZM134.62 288.8h3.86v3.6h-3.86ZM138.48 218.9h3.86v3.6h-3.86ZM138.48 224.72h3.86v3.6h-3.86ZM138.48 230.55h3.86v3.6h-3.86ZM138.48 236.37h3.86v3.6h-3.86ZM138.48 242.2h3.86v3.6h-3.86ZM138.48 248.02h3.86v3.6h-3.86ZM138.48 253.85h3.86v3.6h-3.86ZM138.48 259.67h3.86v3.6h-3.86ZM138.48 265.5h3.86v3.6h-3.86ZM138.48 271.32h3.86v3.6h-3.86ZM138.48 277.15h3.86v3.6h-3.86ZM138.48 282.97h3.86v3.6h-3.86ZM138.48 288.8h3.86v3.6h-3.86ZM142.34 218.9h3.86v3.6h-3.86ZM142.34 224.72h3.86v3.6h-3.86ZM142.34 230.55h3.86v3.6h-3.86ZM142.34 236.37h3.86v3.6h-3.86ZM142.34 242.2h3.86v3.6h-3.86ZM142.34 248.02h3.86v3.6h-3.86ZM142.34 253.85h3.86v3.6h-3.86ZM142.34 259.67h3.86v3.6h-3.86ZM142.34 265.5h3.86v3.6h-3.86ZM142.34 271.32h3.86v3.6h-3.86ZM142.34 277.15h3.86v3.6h-3.86ZM142.34 282.97h3.86v3.6h-3.86ZM142.34 288.8h3.86v3.6h-3.86ZM146.2 218.9h3.86v3.6h-3.86ZM146.2 224.72h3.86v3.6h-3.86ZM146.2 230.55h3.86v3.6h-3.86ZM146.2 236.37h3.86v3.6h-3.86ZM146.2 242.2h3.86v3.6h-3.86ZM146.2 248.02h3.86v3.6h-3.86ZM146.2 253.85h3.86v3.6h-3.86ZM146.2 259.67h3.86v3.6h-3.86ZM146.2 265.5h3.86v3.6h-3.86ZM146.2 271.32h3.86v3.6h-3.86ZM146.2 277.15h3.86v3.6h-3.86ZM146.2 282.97h3.86v3.6h-3.86ZM146.2 288.8h3.86v3.6h-3.86ZM150.06 218.9h3.86v3.6h-3.86ZM150.06 224.72h3.86v3.6h-3.86ZM150.06 230.55h3.86v3.6h-3.86ZM150.06 236.37h3.86v3.6h-3.86ZM150.06 242.2h3.86v3.6h-3.86ZM150.06 248.02h3.86v3.6h-3.86ZM150.06 253.85h3.86v3.6h-3.86ZM150.06 259.67h3.86v3.6h-3.86ZM150.06 265.5h3.86v3.6h-3.86ZM150.06 271.32h3.86v3.6h-3.86ZM150.06 277.15h3.86v3.6h-3.86ZM150.06 282.97h3.86v3.6h-3.86ZM150.06 288.8h3.86v3.6h-3.86ZM153.92 218.9h3.86v3.6h-3.86ZM153.92 224.72h3.86v3.6h-3.86ZM153.92 230.55h3.86v3.6h-3.86ZM153.92 236.37h3.86v3.6h-3.86ZM153.92 242.2h3.86v3.6h-3.86ZM153.92 248.02h3.86v3.6h-3.86ZM153.92 253.85h3.86v3.6h-3.86ZM153.92 259.67h3.86v3.6h-3.86ZM153.92 265.5h3.86v3.6h-3.86ZM153.92 271.32h3.86v3.6h-3.86ZM153.92 277.15h3.86v3.6h-3.86ZM153.92 282.97h3.86v3.6h-3.86ZM153.92 288.8h3.86v3.6h-3.86ZM157.78 218.9h3.86v3.6h-3.86ZM157.78 224.72h3.86v3.6h-3.86ZM157.78 230.55h3.86v3.6h-3.86ZM157.78 236.37h3.86v3.6h-3.86ZM157.78 242.2h3.86v3.6h-3.86ZM157.78 248.02h3.86v3.6h-3.86ZM157.78 253.85h3.86v3.6h-3.86ZM157.78 259.67h3.86v3.6h-3.86ZM157.78 265.5h3.86v3.6h-3.86ZM157.78 271.32h3.86v3.6h-3.86ZM157.78 277.15h3.86v3.6h-3.86ZM157.78 282.97h3.86v3.6h-3.86ZM157.78 288.8h3.86v3.6h-3.86ZM161.64 218.9h3.86v3.6h-3.86ZM161.64 224.72h3.86v3.6h-3.86ZM161.64 230.55h3.86v3.6h-3.86ZM161.64 236.37h3.86v3.6h-3.86ZM161.64 242.2h3.86v3.6h-3.86ZM161.64 248.02h3.86v3.6h-3.86ZM161.64 253.85h3.86v3.6h-3.86ZM161.64 259.67h3.86v3.6h-3.86ZM161.64 265.5h3.86v3.6h-3.86ZM161.64 271.32h3.86v3.6h-3.86ZM161.64 277.15h3.86v3.6h-3.86ZM161.64 282.97h3.86v3.6h-3.86ZM161.64 288.8h3.86v3.6h-3.86ZM165.5 218.9h3.86v3.6h-3.86ZM165.5 224.72h3.86v3.6h-3.86ZM165.5 230.55h3.86v3.6h-3.86ZM165.5 236.37h3.86v3.6h-3.86ZM165.5 242.2h3.86v3.6h-3.86ZM165.5 248.02h3.86v3.6h-3.86ZM165.5 253.85h3.86v3.6h-3.86ZM165.5 259.67h3.86v3.6h-3.86ZM165.5 265.5h3.86v3.6h-3.86ZM165.5 271.32h3.86v3.6h-3.86ZM165.5 277.15h3.86v3.6h-3.86ZM165.5 282.97h3.86v3.6h-3.86ZM165.5 288.8h3.86v3.6h-3.86ZM169.36 218.9h3.86v3.6h-3.86ZM169.36 224.72h3.86v3.6h-3.86ZM169.36 230.55h3.86v3.6h-3.86ZM169.36 236.37h3.86v3.6h-3.86ZM169.36 242.2h3.86v3.6h-3.86ZM169.36 248.02h3.86v3.6h-3.86ZM169.36 253.85h3.86v3.6h-3.86ZM169.36 259.67h3.86v3.6h-3.86ZM169.36 265.5h3.86v3.6h-3.86ZM169.36 271.32h3.86v3.6h-3.86ZM169.36 277.15h3.86v3.6h-3.86ZM169.36 282.97h3.86v3.6h-3.86ZM169.36 288.8h3.86v3.6h-3.86ZM173.22 218.9h3.86v3.6h-3.86ZM173.22 224.72h3.86v3.6h-3.86ZM173.22 230.55h3.86v3.6h-3.86ZM173.22 236.37h3.86v3.6h-3.86ZM173.22 242.2h3.86v3.6h-3.86ZM173.22 248.02h3.86v3.6h-3.86ZM173.22 253.85h3.86v3.6h-3.86ZM173.22 259.67h3.86v3.6h-3.86ZM173.22 265.5h3.86v3.6h-3.86ZM173.22 271.32h3.86v3.6h-3.86ZM173.22 277.15h3.86v3.6h-3.86ZM173.22 282.97h3.86v3.6h-3.86ZM173.22 288.8h3.86v3.6h-3.86ZM177.08 218.9h3.86v3.6h-3.86ZM177.08 224.72h3.86v3.6h-3.86ZM177.08 230.55h3.86v3.6h-3.86ZM177.08 236.37h3.86v3.6h-3.86ZM177.08 242.2h3.86v3.6h-3.86ZM177.08 248.02h3.86v3.6h-3.86ZM177.08 253.85h3.86v3.6h-3.86ZM177.08 259.67h3.86v3.6h-3.86ZM177.08 265.5h3.86v3.6h-3.86ZM177.08 271.32h3.86v3.6h-3.86ZM177.08 277.15h3.86v3.6h-3.86ZM177.08 282.97h3.86v3.6h-3.86ZM177.08 288.8h3.86v3.6h-3.86ZM180.94 218.9h3.86v3.6h-3.86ZM180.94 224.72h3.86v3.6h-3.86ZM180.94 230.55h3.86v3.6h-3.86ZM180.94 236.37h3.86v3.6h-3.86ZM180.94 242.2h3.86v3.6h-3.86ZM180.94 248.02h3.86v3.6h-3.86ZM180.94 253.85h3.86v3.6h-3.86ZM180.94 259.67h3.86v3.6h-3.86ZM180.94 265.5h3.86v3.6h-3.86ZM180.94 271.32h3.86v3.6h-3.86ZM180.94 277.15h3.86v3.6h-3.86ZM180.94 282.97h3.86v3.6h-3.86ZM180.94 288.8h3.86v3.6h-3.86Z" fill="none" stroke="#9c9c9c" stroke-width="0.7"/>
<rect x="116" y="219.1" width="3.2" height="3.2" fill="#fcf8dc"/>
<rect x="116" y="224.8" width="3.2" height="3.4" fill="#f8efb0"/>
<rect x="119.85" y="224.8" width="3.2" height="3.4" fill="#f8f2c0"/>
<rect x="116" y="230.6" width="3.2" height="3.4" fill="#f6ec9c"/>
<rect x="119.85" y="230.6" width="3.2" height="3.4" fill="#f8efb0"/>
<rect x="116" y="236.4" width="3.2" height="3.4" fill="#f8f0b8"/>
<rect x="123.7" y="224.8" width="3.2" height="3.4" fill="#f0a81c"/>
<rect x="123.7" y="230.6" width="3.2" height="3.4" fill="#dcb224"/>
</g>
<rect x="59.7" y="217.9" width="154.2" height="76.4" fill="none" stroke="#000" stroke-width="1.6"/>
<line x1="59.7" y1="220.7" x2="55.7" y2="220.7" stroke="#000" stroke-width="0.8"/>
<line x1="213.9" y1="220.7" x2="217.9" y2="220.7" stroke="#000" stroke-width="0.8"/>
<line x1="59.7" y1="226.52" x2="57.7" y2="226.52" stroke="#000" stroke-width="0.8"/>
<line x1="213.9" y1="226.52" x2="215.9" y2="226.52" stroke="#000" stroke-width="0.8"/>
<line x1="59.7" y1="232.35" x2="55.7" y2="232.35" stroke="#000" stroke-width="0.8"/>
<line x1="213.9" y1="232.35" x2="217.9" y2="232.35" stroke="#000" stroke-width="0.8"/>
<line x1="59.7" y1="238.17" x2="57.7" y2="238.17" stroke="#000" stroke-width="0.8"/>
<line x1="213.9" y1="238.17" x2="215.9" y2="238.17" stroke="#000" stroke-width="0.8"/>
<line x1="59.7" y1="244" x2="55.7" y2="244" stroke="#000" stroke-width="0.8"/>
<line x1="213.9" y1="244" x2="217.9" y2="244" stroke="#000" stroke-width="0.8"/>
<line x1="59.7" y1="249.82" x2="57.7" y2="249.82" stroke="#000" stroke-width="0.8"/>
<line x1="213.9" y1="249.82" x2="215.9" y2="249.82" stroke="#000" stroke-width="0.8"/>
<line x1="59.7" y1="255.65" x2="55.7" y2="255.65" stroke="#000" stroke-width="0.8"/>
<line x1="213.9" y1="255.65" x2="217.9" y2="255.65" stroke="#000" stroke-width="0.8"/>
<line x1="59.7" y1="261.47" x2="57.7" y2="261.47" stroke="#000" stroke-width="0.8"/>
<line x1="213.9" y1="261.47" x2="215.9" y2="261.47" stroke="#000" stroke-width="0.8"/>
<line x1="59.7" y1="267.3" x2="55.7" y2="267.3" stroke="#000" stroke-width="0.8"/>
<line x1="213.9" y1="267.3" x2="217.9" y2="267.3" stroke="#000" stroke-width="0.8"/>
<line x1="59.7" y1="273.12" x2="57.7" y2="273.12" stroke="#000" stroke-width="0.8"/>
<line x1="213.9" y1="273.12" x2="215.9" y2="273.12" stroke="#000" stroke-width="0.8"/>
<line x1="59.7" y1="278.95" x2="55.7" y2="278.95" stroke="#000" stroke-width="0.8"/>
<line x1="213.9" y1="278.95" x2="217.9" y2="278.95" stroke="#000" stroke-width="0.8"/>
<line x1="59.7" y1="284.77" x2="57.7" y2="284.77" stroke="#000" stroke-width="0.8"/>
<line x1="213.9" y1="284.77" x2="215.9" y2="284.77" stroke="#000" stroke-width="0.8"/>
<line x1="59.7" y1="290.6" x2="55.7" y2="290.6" stroke="#000" stroke-width="0.8"/>
<line x1="213.9" y1="290.6" x2="217.9" y2="290.6" stroke="#000" stroke-width="0.8"/>
<text x="53.4" y="224.2" font-size="10" font-family='"Liberation Sans", sans-serif' fill="#111" stroke="#111" stroke-width="0.25" text-anchor="end" >0</text>
<text x="53.4" y="235.85" font-size="10" font-family='"Liberation Sans", sans-serif' fill="#111" stroke="#111" stroke-width="0.25" text-anchor="end" >5</text>
<text x="53.4" y="247.5" font-size="10" font-family='"Liberation Sans", sans-serif' fill="#111" stroke="#111" stroke-width="0.25" text-anchor="end" >10</text>
<text x="53.4" y="259.15" font-size="10" font-family='"Liberation Sans", sans-serif' fill="#111" stroke="#111" stroke-width="0.25" text-anchor="end" >15</text>
<text x="53.4" y="270.8" font-size="10" font-family='"Liberation Sans", sans-serif' fill="#111" stroke="#111" stroke-width="0.25" text-anchor="end" >20</text>
<text x="53.4" y="282.45" font-size="10" font-family='"Liberation Sans", sans-serif' fill="#111" stroke="#111" stroke-width="0.25" text-anchor="end" >25</text>
<text x="53.4" y="294.1" font-size="10" font-family='"Liberation Sans", sans-serif' fill="#111" stroke="#111" stroke-width="0.25" text-anchor="end" >30</text>
<line x1="74.8" y1="217.9" x2="74.8" y2="213.9" stroke="#000" stroke-width="0.8"/>
<line x1="74.8" y1="294.3" x2="74.8" y2="298.3" stroke="#000" stroke-width="0.8"/>
<line x1="90.25" y1="217.9" x2="90.25" y2="215.9" stroke="#000" stroke-width="0.8"/>
<line x1="90.25" y1="294.3" x2="90.25" y2="296.3" stroke="#000" stroke-width="0.8"/>
<line x1="105.7" y1="217.9" x2="105.7" y2="213.9" stroke="#000" stroke-width="0.8"/>
<line x1="105.7" y1="294.3" x2="105.7" y2="298.3" stroke="#000" stroke-width="0.8"/>
<line x1="121.15" y1="217.9" x2="121.15" y2="215.9" stroke="#000" stroke-width="0.8"/>
<line x1="121.15" y1="294.3" x2="121.15" y2="296.3" stroke="#000" stroke-width="0.8"/>
<line x1="136.6" y1="217.9" x2="136.6" y2="213.9" stroke="#000" stroke-width="0.8"/>
<line x1="136.6" y1="294.3" x2="136.6" y2="298.3" stroke="#000" stroke-width="0.8"/>
<line x1="152.05" y1="217.9" x2="152.05" y2="215.9" stroke="#000" stroke-width="0.8"/>
<line x1="152.05" y1="294.3" x2="152.05" y2="296.3" stroke="#000" stroke-width="0.8"/>
<line x1="167.5" y1="217.9" x2="167.5" y2="213.9" stroke="#000" stroke-width="0.8"/>
<line x1="167.5" y1="294.3" x2="167.5" y2="298.3" stroke="#000" stroke-width="0.8"/>
<line x1="182.95" y1="217.9" x2="182.95" y2="215.9" stroke="#000" stroke-width="0.8"/>
<line x1="182.95" y1="294.3" x2="182.95" y2="296.3" stroke="#000" stroke-width="0.8"/>
<line x1="198.4" y1="217.9" x2="198.4" y2="213.9" stroke="#000" stroke-width="0.8"/>
<line x1="198.4" y1="294.3" x2="198.4" y2="298.3" stroke="#000" stroke-width="0.8"/>
<text x="76.1" y="310" font-size="10.2" font-family='"Liberation Sans", sans-serif' fill="#111" stroke="#111" stroke-width="0.25" text-anchor="middle" textLength="23.3" lengthAdjust="spacingAndGlyphs" >120.8</text>
<text x="107" y="310" font-size="10.2" font-family='"Liberation Sans", sans-serif' fill="#111" stroke="#111" stroke-width="0.25" text-anchor="middle" textLength="23.3" lengthAdjust="spacingAndGlyphs" >121.0</text>
<text x="137.9" y="310" font-size="10.2" font-family='"Liberation Sans", sans-serif' fill="#111" stroke="#111" stroke-width="0.25" text-anchor="middle" textLength="23.3" lengthAdjust="spacingAndGlyphs" >121.2</text>
<text x="168.8" y="310" font-size="10.2" font-family='"Liberation Sans", sans-serif' fill="#111" stroke="#111" stroke-width="0.25" text-anchor="middle" textLength="23.3" lengthAdjust="spacingAndGlyphs" >121.4</text>
<text x="199.7" y="310" font-size="10.2" font-family='"Liberation Sans", sans-serif' fill="#111" stroke="#111" stroke-width="0.25" text-anchor="middle" textLength="23.3" lengthAdjust="spacingAndGlyphs" >121.6</text>
<text x="138.3" y="326.2" font-size="10.8" font-family='"Liberation Sans", sans-serif' fill="#111" stroke="#111" stroke-width="0.25" text-anchor="middle" textLength="46.7" lengthAdjust="spacingAndGlyphs" >Longitude</text>
<text x="33.2" y="254.6" font-size="10.8" font-family='"Liberation Sans", sans-serif' fill="#111" stroke="#111" stroke-width="0.25" text-anchor="middle" textLength="52.5" lengthAdjust="spacingAndGlyphs" transform="rotate(-90 33.2 254.6)" >Depth (km)</text>
<line x1="86.8" y1="243.6" x2="124.2" y2="226.9" stroke="#1a1a1a" stroke-width="0.9"/>
<line x1="87" y1="269.3" x2="125.6" y2="232" stroke="#1a1a1a" stroke-width="0.9"/>
<circle cx="124.9" cy="226.7" r="5.4" fill="none" stroke="#000" stroke-width="0.9"/>
<path d="M130.3 232.1L131.78 235.66L135.63 235.97L132.7 238.48L133.59 242.23L130.3 240.22L127.01 242.23L127.9 238.48L124.97 235.97L128.82 235.66Z" fill="none" stroke="#2c4cb0" stroke-width="1.25" stroke-linejoin="miter"/>
<text x="62.8" y="250" font-size="12.8" font-family='"Liberation Sans", sans-serif' fill="#111" stroke="#111" stroke-width="0.25" textLength="23.4" lengthAdjust="spacingAndGlyphs" >32%</text>
<text x="62.8" y="275.2" font-size="12.8" font-family='"Liberation Sans", sans-serif' fill="#111" stroke="#111" stroke-width="0.25" textLength="23.4" lengthAdjust="spacingAndGlyphs" >28%</text>
<linearGradient id="ga" x1="0" y1="1" x2="0" y2="0"><stop offset="0" stop-color="#fffff0"/><stop offset="0.1" stop-color="#faf2a0"/><stop offset="0.2" stop-color="#f2e246"/><stop offset="0.3" stop-color="#f2c432"/><stop offset="0.4" stop-color="#f08c23"/><stop offset="0.5" stop-color="#e8501e"/><stop offset="0.6" stop-color="#dc3223"/><stop offset="0.7" stop-color="#aa2823"/><stop offset="0.8" stop-color="#6e1e1c"/><stop offset="0.9" stop-color="#3c1412"/><stop offset="1" stop-color="#190c0c"/></linearGradient>
<rect x="232.8" y="218" width="9.6" height="77" fill="url(#ga)" stroke="#000" stroke-width="1.5"/>
<line x1="242.4" y1="295" x2="246" y2="295" stroke="#000" stroke-width="0.8"/>
<line x1="242.4" y1="287.3" x2="244.4" y2="287.3" stroke="#000" stroke-width="0.8"/>
<line x1="242.4" y1="279.6" x2="246" y2="279.6" stroke="#000" stroke-width="0.8"/>
<line x1="242.4" y1="271.9" x2="244.4" y2="271.9" stroke="#000" stroke-width="0.8"/>
<line x1="242.4" y1="264.2" x2="246" y2="264.2" stroke="#000" stroke-width="0.8"/>
<line x1="242.4" y1="256.5" x2="244.4" y2="256.5" stroke="#000" stroke-width="0.8"/>
<line x1="242.4" y1="248.8" x2="246" y2="248.8" stroke="#000" stroke-width="0.8"/>
<line x1="242.4" y1="241.1" x2="244.4" y2="241.1" stroke="#000" stroke-width="0.8"/>
<line x1="242.4" y1="233.4" x2="246" y2="233.4" stroke="#000" stroke-width="0.8"/>
<line x1="242.4" y1="225.7" x2="244.4" y2="225.7" stroke="#000" stroke-width="0.8"/>
<line x1="242.4" y1="218" x2="246" y2="218" stroke="#000" stroke-width="0.8"/>
<text x="250.2" y="298.6" font-size="10.2" font-family='"Liberation Sans", sans-serif' fill="#111" stroke="#111" stroke-width="0.25" textLength="13.1" lengthAdjust="spacingAndGlyphs" >0.0</text>
<text x="250.2" y="283.2" font-size="10.2" font-family='"Liberation Sans", sans-serif' fill="#111" stroke="#111" stroke-width="0.25" textLength="13.1" lengthAdjust="spacingAndGlyphs" >0.2</text>
<text x="250.2" y="267.8" font-size="10.2" font-family='"Liberation Sans", sans-serif' fill="#111" stroke="#111" stroke-width="0.25" textLength="13.1" lengthAdjust="spacingAndGlyphs" >0.4</text>
<text x="250.2" y="252.4" font-size="10.2" font-family='"Liberation Sans", sans-serif' fill="#111" stroke="#111" stroke-width="0.25" textLength="13.1" lengthAdjust="spacingAndGlyphs" >0.6</text>
<text x="250.2" y="237" font-size="10.2" font-family='"Liberation Sans", sans-serif' fill="#111" stroke="#111" stroke-width="0.25" textLength="13.1" lengthAdjust="spacingAndGlyphs" >0.8</text>
<text x="250.2" y="221.6" font-size="10.2" font-family='"Liberation Sans", sans-serif' fill="#111" stroke="#111" stroke-width="0.25" textLength="13.1" lengthAdjust="spacingAndGlyphs" >1.0</text>
<text x="274.2" y="255.5" font-size="10.8" font-family='"Liberation Sans", sans-serif' fill="#111" stroke="#111" stroke-width="0.25" text-anchor="middle" textLength="49" lengthAdjust="spacingAndGlyphs" transform="rotate(90 274.2 255.5)" >Probability</text>
<line x1="87.8" y1="340.3" x2="87.8" y2="336.3" stroke="#000" stroke-width="0.8"/>
<line x1="87.8" y1="436.3" x2="87.8" y2="440.3" stroke="#000" stroke-width="0.8"/>
<line x1="97.42" y1="340.3" x2="97.42" y2="338.3" stroke="#000" stroke-width="0.8"/>
<line x1="97.42" y1="436.3" x2="97.42" y2="438.3" stroke="#000" stroke-width="0.8"/>
<line x1="107.04" y1="340.3" x2="107.04" y2="336.3" stroke="#000" stroke-width="0.8"/>
<line x1="107.04" y1="436.3" x2="107.04" y2="440.3" stroke="#000" stroke-width="0.8"/>
<line x1="116.66" y1="340.3" x2="116.66" y2="338.3" stroke="#000" stroke-width="0.8"/>
<line x1="116.66" y1="436.3" x2="116.66" y2="438.3" stroke="#000" stroke-width="0.8"/>
<line x1="126.28" y1="340.3" x2="126.28" y2="336.3" stroke="#000" stroke-width="0.8"/>
<line x1="126.28" y1="436.3" x2="126.28" y2="440.3" stroke="#000" stroke-width="0.8"/>
<line x1="135.9" y1="340.3" x2="135.9" y2="338.3" stroke="#000" stroke-width="0.8"/>
<line x1="135.9" y1="436.3" x2="135.9" y2="438.3" stroke="#000" stroke-width="0.8"/>
<line x1="145.52" y1="340.3" x2="145.52" y2="336.3" stroke="#000" stroke-width="0.8"/>
<line x1="145.52" y1="436.3" x2="145.52" y2="440.3" stroke="#000" stroke-width="0.8"/>
<line x1="155.14" y1="340.3" x2="155.14" y2="338.3" stroke="#000" stroke-width="0.8"/>
<line x1="155.14" y1="436.3" x2="155.14" y2="438.3" stroke="#000" stroke-width="0.8"/>
<line x1="164.76" y1="340.3" x2="164.76" y2="336.3" stroke="#000" stroke-width="0.8"/>
<line x1="164.76" y1="436.3" x2="164.76" y2="440.3" stroke="#000" stroke-width="0.8"/>
<line x1="174.38" y1="340.3" x2="174.38" y2="338.3" stroke="#000" stroke-width="0.8"/>
<line x1="174.38" y1="436.3" x2="174.38" y2="438.3" stroke="#000" stroke-width="0.8"/>
<line x1="184" y1="340.3" x2="184" y2="336.3" stroke="#000" stroke-width="0.8"/>
<line x1="184" y1="436.3" x2="184" y2="440.3" stroke="#000" stroke-width="0.8"/>
<line x1="193.62" y1="340.3" x2="193.62" y2="338.3" stroke="#000" stroke-width="0.8"/>
<line x1="193.62" y1="436.3" x2="193.62" y2="438.3" stroke="#000" stroke-width="0.8"/>
<line x1="203.24" y1="340.3" x2="203.24" y2="336.3" stroke="#000" stroke-width="0.8"/>
<line x1="203.24" y1="436.3" x2="203.24" y2="440.3" stroke="#000" stroke-width="0.8"/>
<line x1="212.86" y1="340.3" x2="212.86" y2="338.3" stroke="#000" stroke-width="0.8"/>
<line x1="212.86" y1="436.3" x2="212.86" y2="438.3" stroke="#000" stroke-width="0.8"/>
<line x1="222.48" y1="340.3" x2="222.48" y2="336.3" stroke="#000" stroke-width="0.8"/>
<line x1="222.48" y1="436.3" x2="222.48" y2="440.3" stroke="#000" stroke-width="0.8"/>
<line x1="232.1" y1="340.3" x2="232.1" y2="338.3" stroke="#000" stroke-width="0.8"/>
<line x1="232.1" y1="436.3" x2="232.1" y2="438.3" stroke="#000" stroke-width="0.8"/>
<line x1="241.72" y1="340.3" x2="241.72" y2="336.3" stroke="#000" stroke-width="0.8"/>
<line x1="241.72" y1="436.3" x2="241.72" y2="440.3" stroke="#000" stroke-width="0.8"/>
<line x1="251.34" y1="340.3" x2="251.34" y2="338.3" stroke="#000" stroke-width="0.8"/>
<line x1="251.34" y1="436.3" x2="251.34" y2="438.3" stroke="#000" stroke-width="0.8"/>
<line x1="260.96" y1="340.3" x2="260.96" y2="336.3" stroke="#000" stroke-width="0.8"/>
<line x1="260.96" y1="436.3" x2="260.96" y2="440.3" stroke="#000" stroke-width="0.8"/>
<line x1="270.58" y1="340.3" x2="270.58" y2="338.3" stroke="#000" stroke-width="0.8"/>
<line x1="270.58" y1="436.3" x2="270.58" y2="438.3" stroke="#000" stroke-width="0.8"/>
<line x1="280.2" y1="340.3" x2="280.2" y2="336.3" stroke="#000" stroke-width="0.8"/>
<line x1="280.2" y1="436.3" x2="280.2" y2="440.3" stroke="#000" stroke-width="0.8"/>
<line x1="87.8" y1="436.3" x2="83.8" y2="436.3" stroke="#000" stroke-width="0.8"/>
<line x1="280.2" y1="436.3" x2="284.2" y2="436.3" stroke="#000" stroke-width="0.8"/>
<line x1="87.8" y1="420.3" x2="85.8" y2="420.3" stroke="#000" stroke-width="0.8"/>
<line x1="280.2" y1="420.3" x2="282.2" y2="420.3" stroke="#000" stroke-width="0.8"/>
<line x1="87.8" y1="404.3" x2="83.8" y2="404.3" stroke="#000" stroke-width="0.8"/>
<line x1="280.2" y1="404.3" x2="284.2" y2="404.3" stroke="#000" stroke-width="0.8"/>
<line x1="87.8" y1="388.3" x2="85.8" y2="388.3" stroke="#000" stroke-width="0.8"/>
<line x1="280.2" y1="388.3" x2="282.2" y2="388.3" stroke="#000" stroke-width="0.8"/>
<line x1="87.8" y1="372.3" x2="83.8" y2="372.3" stroke="#000" stroke-width="0.8"/>
<line x1="280.2" y1="372.3" x2="284.2" y2="372.3" stroke="#000" stroke-width="0.8"/>
<line x1="87.8" y1="356.3" x2="85.8" y2="356.3" stroke="#000" stroke-width="0.8"/>
<line x1="280.2" y1="356.3" x2="282.2" y2="356.3" stroke="#000" stroke-width="0.8"/>
<line x1="87.8" y1="340.3" x2="83.8" y2="340.3" stroke="#000" stroke-width="0.8"/>
<line x1="280.2" y1="340.3" x2="284.2" y2="340.3" stroke="#000" stroke-width="0.8"/>
<polyline points="120,436.3 122.4,436.2 124.6,435.6 126.7,435.9 128.8,435.4 130.9,433.5 133.6,430.3 135.2,431.9 136.2,433 137.3,425 138.4,409.1 139.2,415.5 139.9,421.3 141,423.4 142.4,424 143.5,428.2 144.5,433 145.8,435.1 147.4,436.2 150,436.3" fill="none" stroke="#111" stroke-width="1.2" stroke-linejoin="round" stroke-linecap="round" />
<rect x="87.8" y="340.3" width="192.4" height="96" fill="none" stroke="#000" stroke-width="1.7"/>
<text x="81" y="439.9" font-size="10" font-family='"Liberation Sans", sans-serif' fill="#111" stroke="#111" stroke-width="0.25" text-anchor="end" textLength="12.9" lengthAdjust="spacingAndGlyphs" >0.0</text>
<text x="81" y="407.9" font-size="10" font-family='"Liberation Sans", sans-serif' fill="#111" stroke="#111" stroke-width="0.25" text-anchor="end" textLength="12.9" lengthAdjust="spacingAndGlyphs" >0.1</text>
<text x="81" y="375.9" font-size="10" font-family='"Liberation Sans", sans-serif' fill="#111" stroke="#111" stroke-width="0.25" text-anchor="end" textLength="12.9" lengthAdjust="spacingAndGlyphs" >0.2</text>
<text x="81" y="343.9" font-size="10" font-family='"Liberation Sans", sans-serif' fill="#111" stroke="#111" stroke-width="0.25" text-anchor="end" textLength="12.9" lengthAdjust="spacingAndGlyphs" >0.3</text>
<text x="87.8" y="451" font-size="10.3" font-family='"Liberation Sans", sans-serif' fill="#111" stroke="#111" stroke-width="0.25" text-anchor="middle" >0</text>
<text x="107.04" y="451" font-size="10.3" font-family='"Liberation Sans", sans-serif' fill="#111" stroke="#111" stroke-width="0.25" text-anchor="middle" >2</text>
<text x="126.28" y="451" font-size="10.3" font-family='"Liberation Sans", sans-serif' fill="#111" stroke="#111" stroke-width="0.25" text-anchor="middle" >4</text>
<text x="145.52" y="451" font-size="10.3" font-family='"Liberation Sans", sans-serif' fill="#111" stroke="#111" stroke-width="0.25" text-anchor="middle" >6</text>
<text x="164.76" y="451" font-size="10.3" font-family='"Liberation Sans", sans-serif' fill="#111" stroke="#111" stroke-width="0.25" text-anchor="middle" >8</text>
<text x="184" y="451" font-size="10.3" font-family='"Liberation Sans", sans-serif' fill="#111" stroke="#111" stroke-width="0.25" text-anchor="middle" >10</text>
<text x="203.24" y="451" font-size="10.3" font-family='"Liberation Sans", sans-serif' fill="#111" stroke="#111" stroke-width="0.25" text-anchor="middle" >12</text>
<text x="222.48" y="451" font-size="10.3" font-family='"Liberation Sans", sans-serif' fill="#111" stroke="#111" stroke-width="0.25" text-anchor="middle" >14</text>
<text x="241.72" y="451" font-size="10.3" font-family='"Liberation Sans", sans-serif' fill="#111" stroke="#111" stroke-width="0.25" text-anchor="middle" >16</text>
<text x="260.96" y="451" font-size="10.3" font-family='"Liberation Sans", sans-serif' fill="#111" stroke="#111" stroke-width="0.25" text-anchor="middle" >18</text>
<text x="280.2" y="451" font-size="10.3" font-family='"Liberation Sans", sans-serif' fill="#111" stroke="#111" stroke-width="0.25" text-anchor="middle" >20</text>
<text x="57.7" y="386.9" font-size="10.8" font-family='"Liberation Sans", sans-serif' fill="#111" stroke="#111" stroke-width="0.25" text-anchor="middle" textLength="50.9" lengthAdjust="spacingAndGlyphs" transform="rotate(-90 57.7 386.9)" >Probability</text>
<text x="147.4" y="469" font-size="10.8" font-family='"Liberation Sans", sans-serif' fill="#111" stroke="#111" stroke-width="0.25" textLength="85.5" lengthAdjust="spacingAndGlyphs" >Centroid delay (s)</text>
<text x="148.2" y="404.9" font-size="10.3" font-family='"Liberation Sans", sans-serif' fill="#111" stroke="#111" stroke-width="0.25" textLength="25.6" lengthAdjust="spacingAndGlyphs" >5.25 s</text>
<text x="-0.5" y="12.3" font-size="15.8" font-family='"Liberation Serif", serif' fill="#111" stroke="#111" stroke-width="0.2" >(a)</text>
<clipPath id="cmb"><rect x="408.8" y="34.1" width="154.3" height="166.3"/></clipPath>
<g clip-path="url(#cmb)">
<path d="M437.2 65.8V169.3M441.06 65.8V169.3M444.92 65.8V169.3M448.78 65.8V169.3M452.64 65.8V169.3M456.5 65.8V169.3M460.36 65.8V169.3M464.22 65.8V169.3M468.08 65.8V169.3M471.94 65.8V169.3M475.8 65.8V169.3M479.66 65.8V169.3M483.52 65.8V169.3M487.38 65.8V169.3M491.24 65.8V169.3M495.1 65.8V169.3M498.96 65.8V169.3M502.82 65.8V169.3M506.68 65.8V169.3M510.54 65.8V169.3M514.4 65.8V169.3M518.26 65.8V169.3M522.12 65.8V169.3M525.98 65.8V169.3M529.84 65.8V169.3M533.7 65.8V169.3M437.2 65.8H533.7M437.2 69.94H533.7M437.2 74.08H533.7M437.2 78.22H533.7M437.2 82.36H533.7M437.2 86.5H533.7M437.2 90.64H533.7M437.2 94.78H533.7M437.2 98.92H533.7M437.2 103.06H533.7M437.2 107.2H533.7M437.2 111.34H533.7M437.2 115.48H533.7M437.2 119.62H533.7M437.2 123.76H533.7M437.2 127.9H533.7M437.2 132.04H533.7M437.2 136.18H533.7M437.2 140.32H533.7M437.2 144.46H533.7M437.2 148.6H533.7M437.2 152.74H533.7M437.2 156.88H533.7M437.2 161.02H533.7M437.2 165.16H533.7M437.2 169.3H533.7" fill="none" stroke="#8a8a8a" stroke-width="0.9"/>
<rect x="491.8" y="99.4" width="3" height="3.2" fill="#1a1010"/>
<polyline points="536.9,34.3 536.8,36.8 536.2,42.5 535.6,45.4 533.9,48.3 532.8,51.7 532.2,55.7 532.8,59.7 533.9,60.9 532.8,63.8 531.2,67.9 529.6,72.2 528.5,76.4 528.1,76.8 527,81 526.5,85.3 525.4,89.5 523.3,91.7 521.2,94.3 519.6,98 518.5,101.8 519.1,105.5 516.9,107.6 515.9,110.8 515.3,115 515.9,119.3 517.5,122.5 514.8,124.1 513.1,125.2 509.8,129.4 508.1,134.5 505.5,140.5 502.1,147.3 497.9,153.2 494.5,158.3 490.3,161.8 487.7,164.3 484.4,166.9 483.1,169.9 483.5,172 484.4,173.7 483.1,177.5 482.2,179.6 480.5,182.6 478,185.6 474.2,188.1 470.8,190.2 466.5,192.4 463.1,194.9 459.7,197.5 458.5,200.4" fill="none" stroke="#111" stroke-width="0.8" stroke-linejoin="round" stroke-linecap="round" />
<polyline points="525.2,34.3 523.3,36.8 518.4,42.5 516.2,45.4 515,49.4 514.4,53.4 514.7,57.4 515.6,59.7 516.4,61.5 516.2,63.8 514.2,65.8 511.5,69.5 509.4,73.2 507.3,77.5 505.7,81.8 504.7,85.8 503.5,89.8 502.3,92.4" fill="none" stroke="#e8271b" stroke-width="1.9" stroke-linejoin="round" stroke-linecap="round" />
<polyline points="535.9,42.2 533.9,44.8 531.6,46.8 529.9,47.7 528.5,49.1 527.6,50.6 526.5,52.3 525.3,54 525.6,55.7 525.3,58 523.6,59.4 521.9,60.3 520.2,62 518.4,63.7 515.8,66.3 513.7,69.5 511.5,73.2 510,76.8 507.9,82.1 506.3,87.4 504.7,92.7 503.1,97 500.5,101.2 497.8,106 495.2,110.8 493,114.5 491.4,117.7 490.2,121.8 487.7,127.7 485.1,132.8 482.6,138.8 480.9,143.9 479.2,150.7 477.5,157.5 475.8,164.3 474.4,171.1 474.1,177.9 475.4,182.1 477.5,184.6" fill="none" stroke="#e8271b" stroke-width="1.9" stroke-linejoin="round" stroke-linecap="round" />
<polyline points="508.9,63.3 508.3,66.3 508.5,68.8" fill="none" stroke="#e8271b" stroke-width="1.9" stroke-linejoin="round" stroke-linecap="round" />
<polyline points="474.1,150.7 472.4,157.5 470.7,164.3 469,170.2 468.6,176.2" fill="none" stroke="#e8271b" stroke-width="1.9" stroke-linejoin="round" stroke-linecap="round" />
<polyline points="409.3,122 410.1,124" fill="none" stroke="#e8271b" stroke-width="1.4" stroke-linejoin="round" stroke-linecap="round" />
<path d="M485.6 113.6L487.08 117.16L490.93 117.47L488 119.98L488.89 123.73L485.6 121.72L482.31 123.73L483.2 119.98L480.27 117.47L484.12 117.16Z" fill="none" stroke="#2c4cb0" stroke-width="1.25" stroke-linejoin="miter"/>
<path d="M479.9 122.7L483.9 122.7L481.9 119.1Z" fill="#000"/>
<path d="M484.2 120.4L488.2 120.4L486.2 116.8Z" fill="#000"/>
<path d="M512.5 56.9L516.5 56.9L514.5 53.3Z" fill="#000"/>
<path d="M505.7 62L509.7 62L507.7 58.4Z" fill="#000"/>
<path d="M513.5 68.8L517.5 68.8L515.5 65.2Z" fill="#000"/>
<path d="M507.1 72.2L511.1 72.2L509.1 68.6Z" fill="#000"/>
<path d="M508.4 79.8L512.4 79.8L510.4 76.2Z" fill="#000"/>
<path d="M502 86.6L506 86.6L504 83Z" fill="#000"/>
<path d="M499.9 100.2L503.9 100.2L501.9 96.6Z" fill="#000"/>
<path d="M530 66.2L534 66.2L532 62.6Z" fill="#000"/>
<path d="M522.7 91.7L526.7 91.7L524.7 88.1Z" fill="#000"/>
<path d="M513.9 112.1L517.9 112.1L515.9 108.5Z" fill="#000"/>
<path d="M490.6 116.4L494.6 116.4L492.6 112.8Z" fill="#000"/>
<path d="M510.5 127.4L514.5 127.4L512.5 123.8Z" fill="#000"/>
<path d="M480.7 126.6L484.7 126.6L482.7 123Z" fill="#000"/>
<path d="M419.3 114.1L423.3 114.1L421.3 110.5Z" fill="#000"/>
<path d="M416.8 117.5L420.8 117.5L418.8 113.9Z" fill="#000"/>
<path d="M479.8 126.9L483.8 126.9L481.8 123.3Z" fill="#000"/>
<path d="M486.1 128.3L490.1 128.3L488.1 124.7Z" fill="#000"/>
<path d="M475.1 136.8L479.1 136.8L477.1 133.2Z" fill="#000"/>
<path d="M478.1 135.7L482.1 135.7L480.1 132.1Z" fill="#000"/>
<path d="M479.3 143L483.3 143L481.3 139.4Z" fill="#000"/>
<path d="M470.8 149L474.8 149L472.8 145.4Z" fill="#000"/>
<path d="M476.8 148.6L480.8 148.6L478.8 145Z" fill="#000"/>
<path d="M498 137.4L502 137.4L500 133.8Z" fill="#000"/>
<path d="M503.6 140.1L507.6 140.1L505.6 136.5Z" fill="#000"/>
<path d="M496.8 143.9L500.8 143.9L498.8 140.3Z" fill="#000"/>
<path d="M499.7 148.6L503.7 148.6L501.7 145Z" fill="#000"/>
<path d="M510.8 127.8L514.8 127.8L512.8 124.2Z" fill="#000"/>
<path d="M475.9 161.2L479.9 161.2L477.9 157.6Z" fill="#000"/>
<path d="M462.3 162.2L466.3 162.2L464.3 158.6Z" fill="#000"/>
<path d="M466.9 167.7L470.9 167.7L468.9 164.1Z" fill="#000"/>
<path d="M487.8 165.1L491.8 165.1L489.8 161.5Z" fill="#000"/>
<path d="M466.9 176.2L470.9 176.2L468.9 172.6Z" fill="#000"/>
<path d="M483.2 177.9L487.2 177.9L485.2 174.3Z" fill="#000"/>
<path d="M462.3 182.6L466.3 182.6L464.3 179Z" fill="#000"/>
<path d="M474.2 185.5L478.2 185.5L476.2 181.9Z" fill="#000"/>
<path d="M475.9 186L479.9 186L477.9 182.4Z" fill="#000"/>
<path d="M469.1 189.4L473.1 189.4L471.1 185.8Z" fill="#000"/>
<path d="M459.8 190.6L463.8 190.6L461.8 187Z" fill="#000"/>
</g>
<rect x="408.8" y="34.1" width="154.3" height="166.3" fill="none" stroke="#000" stroke-width="1.6"/>
<text x="419.6" y="46.5" font-size="10.9" font-family='"Liberation Sans", sans-serif' fill="#111" stroke="#111" stroke-width="0.25" textLength="108.2" lengthAdjust="spacingAndGlyphs" >M6.8 0918 earthquake</text>
<text x="399" y="46.1" font-size="10.4" font-family='"Liberation Sans", sans-serif' fill="#111" stroke="#111" stroke-width="0.25" text-anchor="end" textLength="17.9" lengthAdjust="spacingAndGlyphs" >23.6</text>
<text x="399.8" y="42.9" font-size="5.5" font-family='"Liberation Sans", sans-serif' fill="#111" stroke="#111" stroke-width="0.1" >°</text>
<text x="399" y="79.4" font-size="10.4" font-family='"Liberation Sans", sans-serif' fill="#111" stroke="#111" stroke-width="0.25" text-anchor="end" textLength="17.9" lengthAdjust="spacingAndGlyphs" >23.4</text>
<text x="399.8" y="76.2" font-size="5.5" font-family='"Liberation Sans", sans-serif' fill="#111" stroke="#111" stroke-width="0.1" >°</text>
<text x="399" y="112.7" font-size="10.4" font-family='"Liberation Sans", sans-serif' fill="#111" stroke="#111" stroke-width="0.25" text-anchor="end" textLength="17.9" lengthAdjust="spacingAndGlyphs" >23.2</text>
<text x="399.8" y="109.5" font-size="5.5" font-family='"Liberation Sans", sans-serif' fill="#111" stroke="#111" stroke-width="0.1" >°</text>
<text x="399" y="146" font-size="10.4" font-family='"Liberation Sans", sans-serif' fill="#111" stroke="#111" stroke-width="0.25" text-anchor="end" textLength="17.9" lengthAdjust="spacingAndGlyphs" >23.0</text>
<text x="399.8" y="142.8" font-size="5.5" font-family='"Liberation Sans", sans-serif' fill="#111" stroke="#111" stroke-width="0.1" >°</text>
<text x="399" y="179.3" font-size="10.4" font-family='"Liberation Sans", sans-serif' fill="#111" stroke="#111" stroke-width="0.25" text-anchor="end" textLength="17.9" lengthAdjust="spacingAndGlyphs" >22.8</text>
<text x="399.8" y="176.1" font-size="5.5" font-family='"Liberation Sans", sans-serif' fill="#111" stroke="#111" stroke-width="0.1" >°</text>
<text x="370.5" y="115.3" font-size="10.8" font-family='"Liberation Sans", sans-serif' fill="#111" stroke="#111" stroke-width="0.25" text-anchor="middle" textLength="37.6" lengthAdjust="spacingAndGlyphs" transform="rotate(-90 370.5 115.3)" >Latitude</text>
<line x1="497.6" y1="96.3" x2="534.6" y2="94.8" stroke="#1a1a1a" stroke-width="0.9"/>
<line x1="498.8" y1="103.9" x2="534.5" y2="122.7" stroke="#1a1a1a" stroke-width="0.9"/>
<circle cx="492.4" cy="100.8" r="4.9" fill="none" stroke="#000" stroke-width="0.9"/>
<text x="534.8" y="99.3" font-size="12.8" font-family='"Liberation Sans", sans-serif' fill="#111" stroke="#111" stroke-width="0.25" textLength="27" lengthAdjust="spacingAndGlyphs" >0.8%</text>
<text x="536.7" y="131.9" font-size="12.8" font-family='"Liberation Sans", sans-serif' fill="#111" stroke="#111" stroke-width="0.25" textLength="24" lengthAdjust="spacingAndGlyphs" >98%</text>
<clipPath id="cdb"><rect x="582.2" y="35" width="77.3" height="165.4"/></clipPath>
<g clip-path="url(#cdb)">
<path d="M582.48 65.8h4.25v4.14h-4.25ZM582.48 69.94h4.25v4.14h-4.25ZM582.48 74.08h4.25v4.14h-4.25ZM582.48 78.22h4.25v4.14h-4.25ZM582.48 82.36h4.25v4.14h-4.25ZM582.48 86.5h4.25v4.14h-4.25ZM582.48 90.64h4.25v4.14h-4.25ZM582.48 94.78h4.25v4.14h-4.25ZM582.48 98.92h4.25v4.14h-4.25ZM582.48 103.06h4.25v4.14h-4.25ZM582.48 107.2h4.25v4.14h-4.25ZM582.48 111.34h4.25v4.14h-4.25ZM582.48 115.48h4.25v4.14h-4.25ZM582.48 119.62h4.25v4.14h-4.25ZM582.48 123.76h4.25v4.14h-4.25ZM582.48 127.9h4.25v4.14h-4.25ZM582.48 132.04h4.25v4.14h-4.25ZM582.48 136.18h4.25v4.14h-4.25ZM582.48 140.32h4.25v4.14h-4.25ZM582.48 144.46h4.25v4.14h-4.25ZM582.48 148.6h4.25v4.14h-4.25ZM582.48 152.74h4.25v4.14h-4.25ZM582.48 156.88h4.25v4.14h-4.25ZM582.48 161.02h4.25v4.14h-4.25ZM582.48 165.16h4.25v4.14h-4.25ZM588.31 65.8h4.25v4.14h-4.25ZM588.31 69.94h4.25v4.14h-4.25ZM588.31 74.08h4.25v4.14h-4.25ZM588.31 78.22h4.25v4.14h-4.25ZM588.31 82.36h4.25v4.14h-4.25ZM588.31 86.5h4.25v4.14h-4.25ZM588.31 90.64h4.25v4.14h-4.25ZM588.31 94.78h4.25v4.14h-4.25ZM588.31 98.92h4.25v4.14h-4.25ZM588.31 103.06h4.25v4.14h-4.25ZM588.31 107.2h4.25v4.14h-4.25ZM588.31 111.34h4.25v4.14h-4.25ZM588.31 115.48h4.25v4.14h-4.25ZM588.31 119.62h4.25v4.14h-4.25ZM588.31 123.76h4.25v4.14h-4.25ZM588.31 127.9h4.25v4.14h-4.25ZM588.31 132.04h4.25v4.14h-4.25ZM588.31 136.18h4.25v4.14h-4.25ZM588.31 140.32h4.25v4.14h-4.25ZM588.31 144.46h4.25v4.14h-4.25ZM588.31 148.6h4.25v4.14h-4.25ZM588.31 152.74h4.25v4.14h-4.25ZM588.31 156.88h4.25v4.14h-4.25ZM588.31 161.02h4.25v4.14h-4.25ZM588.31 165.16h4.25v4.14h-4.25ZM594.15 65.8h4.25v4.14h-4.25ZM594.15 69.94h4.25v4.14h-4.25ZM594.15 74.08h4.25v4.14h-4.25ZM594.15 78.22h4.25v4.14h-4.25ZM594.15 82.36h4.25v4.14h-4.25ZM594.15 86.5h4.25v4.14h-4.25ZM594.15 90.64h4.25v4.14h-4.25ZM594.15 94.78h4.25v4.14h-4.25ZM594.15 98.92h4.25v4.14h-4.25ZM594.15 103.06h4.25v4.14h-4.25ZM594.15 107.2h4.25v4.14h-4.25ZM594.15 111.34h4.25v4.14h-4.25ZM594.15 115.48h4.25v4.14h-4.25ZM594.15 119.62h4.25v4.14h-4.25ZM594.15 123.76h4.25v4.14h-4.25ZM594.15 127.9h4.25v4.14h-4.25ZM594.15 132.04h4.25v4.14h-4.25ZM594.15 136.18h4.25v4.14h-4.25ZM594.15 140.32h4.25v4.14h-4.25ZM594.15 144.46h4.25v4.14h-4.25ZM594.15 148.6h4.25v4.14h-4.25ZM594.15 152.74h4.25v4.14h-4.25ZM594.15 156.88h4.25v4.14h-4.25ZM594.15 161.02h4.25v4.14h-4.25ZM594.15 165.16h4.25v4.14h-4.25ZM599.99 65.8h4.25v4.14h-4.25ZM599.99 69.94h4.25v4.14h-4.25ZM599.99 74.08h4.25v4.14h-4.25ZM599.99 78.22h4.25v4.14h-4.25ZM599.99 82.36h4.25v4.14h-4.25ZM599.99 86.5h4.25v4.14h-4.25ZM599.99 90.64h4.25v4.14h-4.25ZM599.99 94.78h4.25v4.14h-4.25ZM599.99 98.92h4.25v4.14h-4.25ZM599.99 103.06h4.25v4.14h-4.25ZM599.99 107.2h4.25v4.14h-4.25ZM599.99 111.34h4.25v4.14h-4.25ZM599.99 115.48h4.25v4.14h-4.25ZM599.99 119.62h4.25v4.14h-4.25ZM599.99 123.76h4.25v4.14h-4.25ZM599.99 127.9h4.25v4.14h-4.25ZM599.99 132.04h4.25v4.14h-4.25ZM599.99 136.18h4.25v4.14h-4.25ZM599.99 140.32h4.25v4.14h-4.25ZM599.99 144.46h4.25v4.14h-4.25ZM599.99 148.6h4.25v4.14h-4.25ZM599.99 152.74h4.25v4.14h-4.25ZM599.99 156.88h4.25v4.14h-4.25ZM599.99 161.02h4.25v4.14h-4.25ZM599.99 165.16h4.25v4.14h-4.25ZM605.83 65.8h4.25v4.14h-4.25ZM605.83 69.94h4.25v4.14h-4.25ZM605.83 74.08h4.25v4.14h-4.25ZM605.83 78.22h4.25v4.14h-4.25ZM605.83 82.36h4.25v4.14h-4.25ZM605.83 86.5h4.25v4.14h-4.25ZM605.83 90.64h4.25v4.14h-4.25ZM605.83 94.78h4.25v4.14h-4.25ZM605.83 98.92h4.25v4.14h-4.25ZM605.83 103.06h4.25v4.14h-4.25ZM605.83 107.2h4.25v4.14h-4.25ZM605.83 111.34h4.25v4.14h-4.25ZM605.83 115.48h4.25v4.14h-4.25ZM605.83 119.62h4.25v4.14h-4.25ZM605.83 123.76h4.25v4.14h-4.25ZM605.83 127.9h4.25v4.14h-4.25ZM605.83 132.04h4.25v4.14h-4.25ZM605.83 136.18h4.25v4.14h-4.25ZM605.83 140.32h4.25v4.14h-4.25ZM605.83 144.46h4.25v4.14h-4.25ZM605.83 148.6h4.25v4.14h-4.25ZM605.83 152.74h4.25v4.14h-4.25ZM605.83 156.88h4.25v4.14h-4.25ZM605.83 161.02h4.25v4.14h-4.25ZM605.83 165.16h4.25v4.14h-4.25ZM611.66 65.8h4.25v4.14h-4.25ZM611.66 69.94h4.25v4.14h-4.25ZM611.66 74.08h4.25v4.14h-4.25ZM611.66 78.22h4.25v4.14h-4.25ZM611.66 82.36h4.25v4.14h-4.25ZM611.66 86.5h4.25v4.14h-4.25ZM611.66 90.64h4.25v4.14h-4.25ZM611.66 94.78h4.25v4.14h-4.25ZM611.66 98.92h4.25v4.14h-4.25ZM611.66 103.06h4.25v4.14h-4.25ZM611.66 107.2h4.25v4.14h-4.25ZM611.66 111.34h4.25v4.14h-4.25ZM611.66 115.48h4.25v4.14h-4.25ZM611.66 119.62h4.25v4.14h-4.25ZM611.66 123.76h4.25v4.14h-4.25ZM611.66 127.9h4.25v4.14h-4.25ZM611.66 132.04h4.25v4.14h-4.25ZM611.66 136.18h4.25v4.14h-4.25ZM611.66 140.32h4.25v4.14h-4.25ZM611.66 144.46h4.25v4.14h-4.25ZM611.66 148.6h4.25v4.14h-4.25ZM611.66 152.74h4.25v4.14h-4.25ZM611.66 156.88h4.25v4.14h-4.25ZM611.66 161.02h4.25v4.14h-4.25ZM611.66 165.16h4.25v4.14h-4.25ZM617.5 65.8h4.25v4.14h-4.25ZM617.5 69.94h4.25v4.14h-4.25ZM617.5 74.08h4.25v4.14h-4.25ZM617.5 78.22h4.25v4.14h-4.25ZM617.5 82.36h4.25v4.14h-4.25ZM617.5 86.5h4.25v4.14h-4.25ZM617.5 90.64h4.25v4.14h-4.25ZM617.5 94.78h4.25v4.14h-4.25ZM617.5 98.92h4.25v4.14h-4.25ZM617.5 103.06h4.25v4.14h-4.25ZM617.5 107.2h4.25v4.14h-4.25ZM617.5 111.34h4.25v4.14h-4.25ZM617.5 115.48h4.25v4.14h-4.25ZM617.5 119.62h4.25v4.14h-4.25ZM617.5 123.76h4.25v4.14h-4.25ZM617.5 127.9h4.25v4.14h-4.25ZM617.5 132.04h4.25v4.14h-4.25ZM617.5 136.18h4.25v4.14h-4.25ZM617.5 140.32h4.25v4.14h-4.25ZM617.5 144.46h4.25v4.14h-4.25ZM617.5 148.6h4.25v4.14h-4.25ZM617.5 152.74h4.25v4.14h-4.25ZM617.5 156.88h4.25v4.14h-4.25ZM617.5 161.02h4.25v4.14h-4.25ZM617.5 165.16h4.25v4.14h-4.25ZM623.34 65.8h4.25v4.14h-4.25ZM623.34 69.94h4.25v4.14h-4.25ZM623.34 74.08h4.25v4.14h-4.25ZM623.34 78.22h4.25v4.14h-4.25ZM623.34 82.36h4.25v4.14h-4.25ZM623.34 86.5h4.25v4.14h-4.25ZM623.34 90.64h4.25v4.14h-4.25ZM623.34 94.78h4.25v4.14h-4.25ZM623.34 98.92h4.25v4.14h-4.25ZM623.34 103.06h4.25v4.14h-4.25ZM623.34 107.2h4.25v4.14h-4.25ZM623.34 111.34h4.25v4.14h-4.25ZM623.34 115.48h4.25v4.14h-4.25ZM623.34 119.62h4.25v4.14h-4.25ZM623.34 123.76h4.25v4.14h-4.25ZM623.34 127.9h4.25v4.14h-4.25ZM623.34 132.04h4.25v4.14h-4.25ZM623.34 136.18h4.25v4.14h-4.25ZM623.34 140.32h4.25v4.14h-4.25ZM623.34 144.46h4.25v4.14h-4.25ZM623.34 148.6h4.25v4.14h-4.25ZM623.34 152.74h4.25v4.14h-4.25ZM623.34 156.88h4.25v4.14h-4.25ZM623.34 161.02h4.25v4.14h-4.25ZM623.34 165.16h4.25v4.14h-4.25ZM629.18 65.8h4.25v4.14h-4.25ZM629.18 69.94h4.25v4.14h-4.25ZM629.18 74.08h4.25v4.14h-4.25ZM629.18 78.22h4.25v4.14h-4.25ZM629.18 82.36h4.25v4.14h-4.25ZM629.18 86.5h4.25v4.14h-4.25ZM629.18 90.64h4.25v4.14h-4.25ZM629.18 94.78h4.25v4.14h-4.25ZM629.18 98.92h4.25v4.14h-4.25ZM629.18 103.06h4.25v4.14h-4.25ZM629.18 107.2h4.25v4.14h-4.25ZM629.18 111.34h4.25v4.14h-4.25ZM629.18 115.48h4.25v4.14h-4.25ZM629.18 119.62h4.25v4.14h-4.25ZM629.18 123.76h4.25v4.14h-4.25ZM629.18 127.9h4.25v4.14h-4.25ZM629.18 132.04h4.25v4.14h-4.25ZM629.18 136.18h4.25v4.14h-4.25ZM629.18 140.32h4.25v4.14h-4.25ZM629.18 144.46h4.25v4.14h-4.25ZM629.18 148.6h4.25v4.14h-4.25ZM629.18 152.74h4.25v4.14h-4.25ZM629.18 156.88h4.25v4.14h-4.25ZM629.18 161.02h4.25v4.14h-4.25ZM629.18 165.16h4.25v4.14h-4.25ZM635.01 65.8h4.25v4.14h-4.25ZM635.01 69.94h4.25v4.14h-4.25ZM635.01 74.08h4.25v4.14h-4.25ZM635.01 78.22h4.25v4.14h-4.25ZM635.01 82.36h4.25v4.14h-4.25ZM635.01 86.5h4.25v4.14h-4.25ZM635.01 90.64h4.25v4.14h-4.25ZM635.01 94.78h4.25v4.14h-4.25ZM635.01 98.92h4.25v4.14h-4.25ZM635.01 103.06h4.25v4.14h-4.25ZM635.01 107.2h4.25v4.14h-4.25ZM635.01 111.34h4.25v4.14h-4.25ZM635.01 115.48h4.25v4.14h-4.25ZM635.01 119.62h4.25v4.14h-4.25ZM635.01 123.76h4.25v4.14h-4.25ZM635.01 127.9h4.25v4.14h-4.25ZM635.01 132.04h4.25v4.14h-4.25ZM635.01 136.18h4.25v4.14h-4.25ZM635.01 140.32h4.25v4.14h-4.25ZM635.01 144.46h4.25v4.14h-4.25ZM635.01 148.6h4.25v4.14h-4.25ZM635.01 152.74h4.25v4.14h-4.25ZM635.01 156.88h4.25v4.14h-4.25ZM635.01 161.02h4.25v4.14h-4.25ZM635.01 165.16h4.25v4.14h-4.25ZM640.85 65.8h4.25v4.14h-4.25ZM640.85 69.94h4.25v4.14h-4.25ZM640.85 74.08h4.25v4.14h-4.25ZM640.85 78.22h4.25v4.14h-4.25ZM640.85 82.36h4.25v4.14h-4.25ZM640.85 86.5h4.25v4.14h-4.25ZM640.85 90.64h4.25v4.14h-4.25ZM640.85 94.78h4.25v4.14h-4.25ZM640.85 98.92h4.25v4.14h-4.25ZM640.85 103.06h4.25v4.14h-4.25ZM640.85 107.2h4.25v4.14h-4.25ZM640.85 111.34h4.25v4.14h-4.25ZM640.85 115.48h4.25v4.14h-4.25ZM640.85 119.62h4.25v4.14h-4.25ZM640.85 123.76h4.25v4.14h-4.25ZM640.85 127.9h4.25v4.14h-4.25ZM640.85 132.04h4.25v4.14h-4.25ZM640.85 136.18h4.25v4.14h-4.25ZM640.85 140.32h4.25v4.14h-4.25ZM640.85 144.46h4.25v4.14h-4.25ZM640.85 148.6h4.25v4.14h-4.25ZM640.85 152.74h4.25v4.14h-4.25ZM640.85 156.88h4.25v4.14h-4.25ZM640.85 161.02h4.25v4.14h-4.25ZM640.85 165.16h4.25v4.14h-4.25ZM646.69 65.8h4.25v4.14h-4.25ZM646.69 69.94h4.25v4.14h-4.25ZM646.69 74.08h4.25v4.14h-4.25ZM646.69 78.22h4.25v4.14h-4.25ZM646.69 82.36h4.25v4.14h-4.25ZM646.69 86.5h4.25v4.14h-4.25ZM646.69 90.64h4.25v4.14h-4.25ZM646.69 94.78h4.25v4.14h-4.25ZM646.69 98.92h4.25v4.14h-4.25ZM646.69 103.06h4.25v4.14h-4.25ZM646.69 107.2h4.25v4.14h-4.25ZM646.69 111.34h4.25v4.14h-4.25ZM646.69 115.48h4.25v4.14h-4.25ZM646.69 119.62h4.25v4.14h-4.25ZM646.69 123.76h4.25v4.14h-4.25ZM646.69 127.9h4.25v4.14h-4.25ZM646.69 132.04h4.25v4.14h-4.25ZM646.69 136.18h4.25v4.14h-4.25ZM646.69 140.32h4.25v4.14h-4.25ZM646.69 144.46h4.25v4.14h-4.25ZM646.69 148.6h4.25v4.14h-4.25ZM646.69 152.74h4.25v4.14h-4.25ZM646.69 156.88h4.25v4.14h-4.25ZM646.69 161.02h4.25v4.14h-4.25ZM646.69 165.16h4.25v4.14h-4.25ZM652.53 65.8h4.25v4.14h-4.25ZM652.53 69.94h4.25v4.14h-4.25ZM652.53 74.08h4.25v4.14h-4.25ZM652.53 78.22h4.25v4.14h-4.25ZM652.53 82.36h4.25v4.14h-4.25ZM652.53 86.5h4.25v4.14h-4.25ZM652.53 90.64h4.25v4.14h-4.25ZM652.53 94.78h4.25v4.14h-4.25ZM652.53 98.92h4.25v4.14h-4.25ZM652.53 103.06h4.25v4.14h-4.25ZM652.53 107.2h4.25v4.14h-4.25ZM652.53 111.34h4.25v4.14h-4.25ZM652.53 115.48h4.25v4.14h-4.25ZM652.53 119.62h4.25v4.14h-4.25ZM652.53 123.76h4.25v4.14h-4.25ZM652.53 127.9h4.25v4.14h-4.25ZM652.53 132.04h4.25v4.14h-4.25ZM652.53 136.18h4.25v4.14h-4.25ZM652.53 140.32h4.25v4.14h-4.25ZM652.53 144.46h4.25v4.14h-4.25ZM652.53 148.6h4.25v4.14h-4.25ZM652.53 152.74h4.25v4.14h-4.25ZM652.53 156.88h4.25v4.14h-4.25ZM652.53 161.02h4.25v4.14h-4.25ZM652.53 165.16h4.25v4.14h-4.25Z" fill="none" stroke="#9c9c9c" stroke-width="0.7"/>
<rect x="588.7" y="99.8" width="3.4" height="3.4" fill="#f0d840"/>
<rect x="594.3" y="99.6" width="3.8" height="3.8" fill="#a51c1c"/>
<rect x="594.4" y="95.8" width="3.6" height="3" fill="#fbf6dc"/>
</g>
<rect x="582.2" y="35" width="77.3" height="165.4" fill="none" stroke="#000" stroke-width="1.6"/>
<line x1="584.6" y1="35" x2="584.6" y2="31" stroke="#000" stroke-width="0.8"/>
<line x1="584.6" y1="200.4" x2="584.6" y2="204.4" stroke="#000" stroke-width="0.8"/>
<line x1="590.44" y1="35" x2="590.44" y2="33" stroke="#000" stroke-width="0.8"/>
<line x1="590.44" y1="200.4" x2="590.44" y2="202.4" stroke="#000" stroke-width="0.8"/>
<line x1="596.27" y1="35" x2="596.27" y2="31" stroke="#000" stroke-width="0.8"/>
<line x1="596.27" y1="200.4" x2="596.27" y2="204.4" stroke="#000" stroke-width="0.8"/>
<line x1="602.11" y1="35" x2="602.11" y2="33" stroke="#000" stroke-width="0.8"/>
<line x1="602.11" y1="200.4" x2="602.11" y2="202.4" stroke="#000" stroke-width="0.8"/>
<line x1="607.95" y1="35" x2="607.95" y2="31" stroke="#000" stroke-width="0.8"/>
<line x1="607.95" y1="200.4" x2="607.95" y2="204.4" stroke="#000" stroke-width="0.8"/>
<line x1="613.79" y1="35" x2="613.79" y2="33" stroke="#000" stroke-width="0.8"/>
<line x1="613.79" y1="200.4" x2="613.79" y2="202.4" stroke="#000" stroke-width="0.8"/>
<line x1="619.62" y1="35" x2="619.62" y2="31" stroke="#000" stroke-width="0.8"/>
<line x1="619.62" y1="200.4" x2="619.62" y2="204.4" stroke="#000" stroke-width="0.8"/>
<line x1="625.46" y1="35" x2="625.46" y2="33" stroke="#000" stroke-width="0.8"/>
<line x1="625.46" y1="200.4" x2="625.46" y2="202.4" stroke="#000" stroke-width="0.8"/>
<line x1="631.3" y1="35" x2="631.3" y2="31" stroke="#000" stroke-width="0.8"/>
<line x1="631.3" y1="200.4" x2="631.3" y2="204.4" stroke="#000" stroke-width="0.8"/>
<line x1="637.14" y1="35" x2="637.14" y2="33" stroke="#000" stroke-width="0.8"/>
<line x1="637.14" y1="200.4" x2="637.14" y2="202.4" stroke="#000" stroke-width="0.8"/>
<line x1="642.98" y1="35" x2="642.98" y2="31" stroke="#000" stroke-width="0.8"/>
<line x1="642.98" y1="200.4" x2="642.98" y2="204.4" stroke="#000" stroke-width="0.8"/>
<line x1="648.81" y1="35" x2="648.81" y2="33" stroke="#000" stroke-width="0.8"/>
<line x1="648.81" y1="200.4" x2="648.81" y2="202.4" stroke="#000" stroke-width="0.8"/>
<line x1="654.65" y1="35" x2="654.65" y2="31" stroke="#000" stroke-width="0.8"/>
<line x1="654.65" y1="200.4" x2="654.65" y2="204.4" stroke="#000" stroke-width="0.8"/>
<text x="0" y="0" font-size="9.2" font-family='"Liberation Sans", sans-serif' fill="#111" stroke="#111" stroke-width="0.25" text-anchor="middle" transform="translate(584.6 27.9) scale(1 1.12)" >0</text>
<text x="0" y="0" font-size="9.2" font-family='"Liberation Sans", sans-serif' fill="#111" stroke="#111" stroke-width="0.25" text-anchor="middle" transform="translate(596.27 27.9) scale(1 1.12)" >5</text>
<text x="0" y="0" font-size="9.2" font-family='"Liberation Sans", sans-serif' fill="#111" stroke="#111" stroke-width="0.25" text-anchor="middle" transform="translate(607.95 27.9) scale(1 1.12)" >10</text>
<text x="0" y="0" font-size="9.2" font-family='"Liberation Sans", sans-serif' fill="#111" stroke="#111" stroke-width="0.25" text-anchor="middle" transform="translate(619.62 27.9) scale(1 1.12)" >15</text>
<text x="0" y="0" font-size="9.2" font-family='"Liberation Sans", sans-serif' fill="#111" stroke="#111" stroke-width="0.25" text-anchor="middle" transform="translate(631.3 27.9) scale(1 1.12)" >20</text>
<text x="0" y="0" font-size="9.2" font-family='"Liberation Sans", sans-serif' fill="#111" stroke="#111" stroke-width="0.25" text-anchor="middle" transform="translate(642.98 27.9) scale(1 1.12)" >25</text>
<text x="0" y="0" font-size="9.2" font-family='"Liberation Sans", sans-serif' fill="#111" stroke="#111" stroke-width="0.25" text-anchor="middle" transform="translate(654.65 27.9) scale(1 1.12)" >30</text>
<text x="622.2" y="11.8" font-size="10.6" font-family='"Liberation Sans", sans-serif' fill="#111" stroke="#111" stroke-width="0.25" text-anchor="middle" textLength="53.2" lengthAdjust="spacingAndGlyphs" >Depth (km)</text>
<line x1="582.2" y1="43.4" x2="578.2" y2="43.4" stroke="#000" stroke-width="0.8"/>
<line x1="659.5" y1="43.4" x2="663.5" y2="43.4" stroke="#000" stroke-width="0.8"/>
<line x1="582.2" y1="60" x2="580.2" y2="60" stroke="#000" stroke-width="0.8"/>
<line x1="659.5" y1="60" x2="661.5" y2="60" stroke="#000" stroke-width="0.8"/>
<line x1="582.2" y1="76.6" x2="578.2" y2="76.6" stroke="#000" stroke-width="0.8"/>
<line x1="659.5" y1="76.6" x2="663.5" y2="76.6" stroke="#000" stroke-width="0.8"/>
<line x1="582.2" y1="93.2" x2="580.2" y2="93.2" stroke="#000" stroke-width="0.8"/>
<line x1="659.5" y1="93.2" x2="661.5" y2="93.2" stroke="#000" stroke-width="0.8"/>
<line x1="582.2" y1="109.8" x2="578.2" y2="109.8" stroke="#000" stroke-width="0.8"/>
<line x1="659.5" y1="109.8" x2="663.5" y2="109.8" stroke="#000" stroke-width="0.8"/>
<line x1="582.2" y1="126.4" x2="580.2" y2="126.4" stroke="#000" stroke-width="0.8"/>
<line x1="659.5" y1="126.4" x2="661.5" y2="126.4" stroke="#000" stroke-width="0.8"/>
<line x1="582.2" y1="143" x2="578.2" y2="143" stroke="#000" stroke-width="0.8"/>
<line x1="659.5" y1="143" x2="663.5" y2="143" stroke="#000" stroke-width="0.8"/>
<line x1="582.2" y1="159.6" x2="580.2" y2="159.6" stroke="#000" stroke-width="0.8"/>
<line x1="659.5" y1="159.6" x2="661.5" y2="159.6" stroke="#000" stroke-width="0.8"/>
<line x1="582.2" y1="176.2" x2="578.2" y2="176.2" stroke="#000" stroke-width="0.8"/>
<line x1="659.5" y1="176.2" x2="663.5" y2="176.2" stroke="#000" stroke-width="0.8"/>
<line x1="582.2" y1="192.8" x2="580.2" y2="192.8" stroke="#000" stroke-width="0.8"/>
<line x1="659.5" y1="192.8" x2="661.5" y2="192.8" stroke="#000" stroke-width="0.8"/>
<text x="666.5" y="47" font-size="10.3" font-family='"Liberation Sans", sans-serif' fill="#111" stroke="#111" stroke-width="0.25" textLength="18.2" lengthAdjust="spacingAndGlyphs" >23.6</text>
<text x="666.5" y="80.2" font-size="10.3" font-family='"Liberation Sans", sans-serif' fill="#111" stroke="#111" stroke-width="0.25" textLength="18.2" lengthAdjust="spacingAndGlyphs" >23.4</text>
<text x="666.5" y="113.4" font-size="10.3" font-family='"Liberation Sans", sans-serif' fill="#111" stroke="#111" stroke-width="0.25" textLength="18.2" lengthAdjust="spacingAndGlyphs" >23.2</text>
<text x="666.5" y="146.6" font-size="10.3" font-family='"Liberation Sans", sans-serif' fill="#111" stroke="#111" stroke-width="0.25" textLength="18.2" lengthAdjust="spacingAndGlyphs" >23.0</text>
<text x="666.5" y="179.8" font-size="10.3" font-family='"Liberation Sans", sans-serif' fill="#111" stroke="#111" stroke-width="0.25" textLength="18.2" lengthAdjust="spacingAndGlyphs" >22.8</text>
<line x1="591.8" y1="99.2" x2="607.5" y2="62.9" stroke="#1a1a1a" stroke-width="0.9"/>
<line x1="599.5" y1="99.2" x2="637.1" y2="62.9" stroke="#1a1a1a" stroke-width="0.9"/>
<circle cx="596" cy="101.5" r="5.6" fill="none" stroke="#000" stroke-width="0.9"/>
<path d="M600.4 112.7L601.88 116.26L605.73 116.57L602.8 119.08L603.69 122.83L600.4 120.82L597.11 122.83L598 119.08L595.07 116.57L598.92 116.26Z" fill="none" stroke="#2c4cb0" stroke-width="1.25" stroke-linejoin="miter"/>
<text x="595.9" y="61" font-size="12.8" font-family='"Liberation Sans", sans-serif' fill="#111" stroke="#111" stroke-width="0.25" textLength="23.6" lengthAdjust="spacingAndGlyphs" >20%</text>
<text x="627" y="61" font-size="12.8" font-family='"Liberation Sans", sans-serif' fill="#111" stroke="#111" stroke-width="0.25" textLength="23.5" lengthAdjust="spacingAndGlyphs" >76%</text>
<clipPath id="clb"><rect x="408.8" y="220.1" width="154.1" height="76"/></clipPath>
<g clip-path="url(#clb)">
<path d="M437.3 221.1h3.86v3.6h-3.86ZM437.3 226.92h3.86v3.6h-3.86ZM437.3 232.73h3.86v3.6h-3.86ZM437.3 238.55h3.86v3.6h-3.86ZM437.3 244.37h3.86v3.6h-3.86ZM437.3 250.19h3.86v3.6h-3.86ZM437.3 256h3.86v3.6h-3.86ZM437.3 261.82h3.86v3.6h-3.86ZM437.3 267.64h3.86v3.6h-3.86ZM437.3 273.46h3.86v3.6h-3.86ZM437.3 279.27h3.86v3.6h-3.86ZM437.3 285.09h3.86v3.6h-3.86ZM437.3 290.91h3.86v3.6h-3.86ZM441.16 221.1h3.86v3.6h-3.86ZM441.16 226.92h3.86v3.6h-3.86ZM441.16 232.73h3.86v3.6h-3.86ZM441.16 238.55h3.86v3.6h-3.86ZM441.16 244.37h3.86v3.6h-3.86ZM441.16 250.19h3.86v3.6h-3.86ZM441.16 256h3.86v3.6h-3.86ZM441.16 261.82h3.86v3.6h-3.86ZM441.16 267.64h3.86v3.6h-3.86ZM441.16 273.46h3.86v3.6h-3.86ZM441.16 279.27h3.86v3.6h-3.86ZM441.16 285.09h3.86v3.6h-3.86ZM441.16 290.91h3.86v3.6h-3.86ZM445.02 221.1h3.86v3.6h-3.86ZM445.02 226.92h3.86v3.6h-3.86ZM445.02 232.73h3.86v3.6h-3.86ZM445.02 238.55h3.86v3.6h-3.86ZM445.02 244.37h3.86v3.6h-3.86ZM445.02 250.19h3.86v3.6h-3.86ZM445.02 256h3.86v3.6h-3.86ZM445.02 261.82h3.86v3.6h-3.86ZM445.02 267.64h3.86v3.6h-3.86ZM445.02 273.46h3.86v3.6h-3.86ZM445.02 279.27h3.86v3.6h-3.86ZM445.02 285.09h3.86v3.6h-3.86ZM445.02 290.91h3.86v3.6h-3.86ZM448.88 221.1h3.86v3.6h-3.86ZM448.88 226.92h3.86v3.6h-3.86ZM448.88 232.73h3.86v3.6h-3.86ZM448.88 238.55h3.86v3.6h-3.86ZM448.88 244.37h3.86v3.6h-3.86ZM448.88 250.19h3.86v3.6h-3.86ZM448.88 256h3.86v3.6h-3.86ZM448.88 261.82h3.86v3.6h-3.86ZM448.88 267.64h3.86v3.6h-3.86ZM448.88 273.46h3.86v3.6h-3.86ZM448.88 279.27h3.86v3.6h-3.86ZM448.88 285.09h3.86v3.6h-3.86ZM448.88 290.91h3.86v3.6h-3.86ZM452.74 221.1h3.86v3.6h-3.86ZM452.74 226.92h3.86v3.6h-3.86ZM452.74 232.73h3.86v3.6h-3.86ZM452.74 238.55h3.86v3.6h-3.86ZM452.74 244.37h3.86v3.6h-3.86ZM452.74 250.19h3.86v3.6h-3.86ZM452.74 256h3.86v3.6h-3.86ZM452.74 261.82h3.86v3.6h-3.86ZM452.74 267.64h3.86v3.6h-3.86ZM452.74 273.46h3.86v3.6h-3.86ZM452.74 279.27h3.86v3.6h-3.86ZM452.74 285.09h3.86v3.6h-3.86ZM452.74 290.91h3.86v3.6h-3.86ZM456.6 221.1h3.86v3.6h-3.86ZM456.6 226.92h3.86v3.6h-3.86ZM456.6 232.73h3.86v3.6h-3.86ZM456.6 238.55h3.86v3.6h-3.86ZM456.6 244.37h3.86v3.6h-3.86ZM456.6 250.19h3.86v3.6h-3.86ZM456.6 256h3.86v3.6h-3.86ZM456.6 261.82h3.86v3.6h-3.86ZM456.6 267.64h3.86v3.6h-3.86ZM456.6 273.46h3.86v3.6h-3.86ZM456.6 279.27h3.86v3.6h-3.86ZM456.6 285.09h3.86v3.6h-3.86ZM456.6 290.91h3.86v3.6h-3.86ZM460.46 221.1h3.86v3.6h-3.86ZM460.46 226.92h3.86v3.6h-3.86ZM460.46 232.73h3.86v3.6h-3.86ZM460.46 238.55h3.86v3.6h-3.86ZM460.46 244.37h3.86v3.6h-3.86ZM460.46 250.19h3.86v3.6h-3.86ZM460.46 256h3.86v3.6h-3.86ZM460.46 261.82h3.86v3.6h-3.86ZM460.46 267.64h3.86v3.6h-3.86ZM460.46 273.46h3.86v3.6h-3.86ZM460.46 279.27h3.86v3.6h-3.86ZM460.46 285.09h3.86v3.6h-3.86ZM460.46 290.91h3.86v3.6h-3.86ZM464.32 221.1h3.86v3.6h-3.86ZM464.32 226.92h3.86v3.6h-3.86ZM464.32 232.73h3.86v3.6h-3.86ZM464.32 238.55h3.86v3.6h-3.86ZM464.32 244.37h3.86v3.6h-3.86ZM464.32 250.19h3.86v3.6h-3.86ZM464.32 256h3.86v3.6h-3.86ZM464.32 261.82h3.86v3.6h-3.86ZM464.32 267.64h3.86v3.6h-3.86ZM464.32 273.46h3.86v3.6h-3.86ZM464.32 279.27h3.86v3.6h-3.86ZM464.32 285.09h3.86v3.6h-3.86ZM464.32 290.91h3.86v3.6h-3.86ZM468.18 221.1h3.86v3.6h-3.86ZM468.18 226.92h3.86v3.6h-3.86ZM468.18 232.73h3.86v3.6h-3.86ZM468.18 238.55h3.86v3.6h-3.86ZM468.18 244.37h3.86v3.6h-3.86ZM468.18 250.19h3.86v3.6h-3.86ZM468.18 256h3.86v3.6h-3.86ZM468.18 261.82h3.86v3.6h-3.86ZM468.18 267.64h3.86v3.6h-3.86ZM468.18 273.46h3.86v3.6h-3.86ZM468.18 279.27h3.86v3.6h-3.86ZM468.18 285.09h3.86v3.6h-3.86ZM468.18 290.91h3.86v3.6h-3.86ZM472.04 221.1h3.86v3.6h-3.86ZM472.04 226.92h3.86v3.6h-3.86ZM472.04 232.73h3.86v3.6h-3.86ZM472.04 238.55h3.86v3.6h-3.86ZM472.04 244.37h3.86v3.6h-3.86ZM472.04 250.19h3.86v3.6h-3.86ZM472.04 256h3.86v3.6h-3.86ZM472.04 261.82h3.86v3.6h-3.86ZM472.04 267.64h3.86v3.6h-3.86ZM472.04 273.46h3.86v3.6h-3.86ZM472.04 279.27h3.86v3.6h-3.86ZM472.04 285.09h3.86v3.6h-3.86ZM472.04 290.91h3.86v3.6h-3.86ZM475.9 221.1h3.86v3.6h-3.86ZM475.9 226.92h3.86v3.6h-3.86ZM475.9 232.73h3.86v3.6h-3.86ZM475.9 238.55h3.86v3.6h-3.86ZM475.9 244.37h3.86v3.6h-3.86ZM475.9 250.19h3.86v3.6h-3.86ZM475.9 256h3.86v3.6h-3.86ZM475.9 261.82h3.86v3.6h-3.86ZM475.9 267.64h3.86v3.6h-3.86ZM475.9 273.46h3.86v3.6h-3.86ZM475.9 279.27h3.86v3.6h-3.86ZM475.9 285.09h3.86v3.6h-3.86ZM475.9 290.91h3.86v3.6h-3.86ZM479.76 221.1h3.86v3.6h-3.86ZM479.76 226.92h3.86v3.6h-3.86ZM479.76 232.73h3.86v3.6h-3.86ZM479.76 238.55h3.86v3.6h-3.86ZM479.76 244.37h3.86v3.6h-3.86ZM479.76 250.19h3.86v3.6h-3.86ZM479.76 256h3.86v3.6h-3.86ZM479.76 261.82h3.86v3.6h-3.86ZM479.76 267.64h3.86v3.6h-3.86ZM479.76 273.46h3.86v3.6h-3.86ZM479.76 279.27h3.86v3.6h-3.86ZM479.76 285.09h3.86v3.6h-3.86ZM479.76 290.91h3.86v3.6h-3.86ZM483.62 221.1h3.86v3.6h-3.86ZM483.62 226.92h3.86v3.6h-3.86ZM483.62 232.73h3.86v3.6h-3.86ZM483.62 238.55h3.86v3.6h-3.86ZM483.62 244.37h3.86v3.6h-3.86ZM483.62 250.19h3.86v3.6h-3.86ZM483.62 256h3.86v3.6h-3.86ZM483.62 261.82h3.86v3.6h-3.86ZM483.62 267.64h3.86v3.6h-3.86ZM483.62 273.46h3.86v3.6h-3.86ZM483.62 279.27h3.86v3.6h-3.86ZM483.62 285.09h3.86v3.6h-3.86ZM483.62 290.91h3.86v3.6h-3.86ZM487.48 221.1h3.86v3.6h-3.86ZM487.48 226.92h3.86v3.6h-3.86ZM487.48 232.73h3.86v3.6h-3.86ZM487.48 238.55h3.86v3.6h-3.86ZM487.48 244.37h3.86v3.6h-3.86ZM487.48 250.19h3.86v3.6h-3.86ZM487.48 256h3.86v3.6h-3.86ZM487.48 261.82h3.86v3.6h-3.86ZM487.48 267.64h3.86v3.6h-3.86ZM487.48 273.46h3.86v3.6h-3.86ZM487.48 279.27h3.86v3.6h-3.86ZM487.48 285.09h3.86v3.6h-3.86ZM487.48 290.91h3.86v3.6h-3.86ZM491.34 221.1h3.86v3.6h-3.86ZM491.34 226.92h3.86v3.6h-3.86ZM491.34 232.73h3.86v3.6h-3.86ZM491.34 238.55h3.86v3.6h-3.86ZM491.34 244.37h3.86v3.6h-3.86ZM491.34 250.19h3.86v3.6h-3.86ZM491.34 256h3.86v3.6h-3.86ZM491.34 261.82h3.86v3.6h-3.86ZM491.34 267.64h3.86v3.6h-3.86ZM491.34 273.46h3.86v3.6h-3.86ZM491.34 279.27h3.86v3.6h-3.86ZM491.34 285.09h3.86v3.6h-3.86ZM491.34 290.91h3.86v3.6h-3.86ZM495.2 221.1h3.86v3.6h-3.86ZM495.2 226.92h3.86v3.6h-3.86ZM495.2 232.73h3.86v3.6h-3.86ZM495.2 238.55h3.86v3.6h-3.86ZM495.2 244.37h3.86v3.6h-3.86ZM495.2 250.19h3.86v3.6h-3.86ZM495.2 256h3.86v3.6h-3.86ZM495.2 261.82h3.86v3.6h-3.86ZM495.2 267.64h3.86v3.6h-3.86ZM495.2 273.46h3.86v3.6h-3.86ZM495.2 279.27h3.86v3.6h-3.86ZM495.2 285.09h3.86v3.6h-3.86ZM495.2 290.91h3.86v3.6h-3.86ZM499.06 221.1h3.86v3.6h-3.86ZM499.06 226.92h3.86v3.6h-3.86ZM499.06 232.73h3.86v3.6h-3.86ZM499.06 238.55h3.86v3.6h-3.86ZM499.06 244.37h3.86v3.6h-3.86ZM499.06 250.19h3.86v3.6h-3.86ZM499.06 256h3.86v3.6h-3.86ZM499.06 261.82h3.86v3.6h-3.86ZM499.06 267.64h3.86v3.6h-3.86ZM499.06 273.46h3.86v3.6h-3.86ZM499.06 279.27h3.86v3.6h-3.86ZM499.06 285.09h3.86v3.6h-3.86ZM499.06 290.91h3.86v3.6h-3.86ZM502.92 221.1h3.86v3.6h-3.86ZM502.92 226.92h3.86v3.6h-3.86ZM502.92 232.73h3.86v3.6h-3.86ZM502.92 238.55h3.86v3.6h-3.86ZM502.92 244.37h3.86v3.6h-3.86ZM502.92 250.19h3.86v3.6h-3.86ZM502.92 256h3.86v3.6h-3.86ZM502.92 261.82h3.86v3.6h-3.86ZM502.92 267.64h3.86v3.6h-3.86ZM502.92 273.46h3.86v3.6h-3.86ZM502.92 279.27h3.86v3.6h-3.86ZM502.92 285.09h3.86v3.6h-3.86ZM502.92 290.91h3.86v3.6h-3.86ZM506.78 221.1h3.86v3.6h-3.86ZM506.78 226.92h3.86v3.6h-3.86ZM506.78 232.73h3.86v3.6h-3.86ZM506.78 238.55h3.86v3.6h-3.86ZM506.78 244.37h3.86v3.6h-3.86ZM506.78 250.19h3.86v3.6h-3.86ZM506.78 256h3.86v3.6h-3.86ZM506.78 261.82h3.86v3.6h-3.86ZM506.78 267.64h3.86v3.6h-3.86ZM506.78 273.46h3.86v3.6h-3.86ZM506.78 279.27h3.86v3.6h-3.86ZM506.78 285.09h3.86v3.6h-3.86ZM506.78 290.91h3.86v3.6h-3.86ZM510.64 221.1h3.86v3.6h-3.86ZM510.64 226.92h3.86v3.6h-3.86ZM510.64 232.73h3.86v3.6h-3.86ZM510.64 238.55h3.86v3.6h-3.86ZM510.64 244.37h3.86v3.6h-3.86ZM510.64 250.19h3.86v3.6h-3.86ZM510.64 256h3.86v3.6h-3.86ZM510.64 261.82h3.86v3.6h-3.86ZM510.64 267.64h3.86v3.6h-3.86ZM510.64 273.46h3.86v3.6h-3.86ZM510.64 279.27h3.86v3.6h-3.86ZM510.64 285.09h3.86v3.6h-3.86ZM510.64 290.91h3.86v3.6h-3.86ZM514.5 221.1h3.86v3.6h-3.86ZM514.5 226.92h3.86v3.6h-3.86ZM514.5 232.73h3.86v3.6h-3.86ZM514.5 238.55h3.86v3.6h-3.86ZM514.5 244.37h3.86v3.6h-3.86ZM514.5 250.19h3.86v3.6h-3.86ZM514.5 256h3.86v3.6h-3.86ZM514.5 261.82h3.86v3.6h-3.86ZM514.5 267.64h3.86v3.6h-3.86ZM514.5 273.46h3.86v3.6h-3.86ZM514.5 279.27h3.86v3.6h-3.86ZM514.5 285.09h3.86v3.6h-3.86ZM514.5 290.91h3.86v3.6h-3.86ZM518.36 221.1h3.86v3.6h-3.86ZM518.36 226.92h3.86v3.6h-3.86ZM518.36 232.73h3.86v3.6h-3.86ZM518.36 238.55h3.86v3.6h-3.86ZM518.36 244.37h3.86v3.6h-3.86ZM518.36 250.19h3.86v3.6h-3.86ZM518.36 256h3.86v3.6h-3.86ZM518.36 261.82h3.86v3.6h-3.86ZM518.36 267.64h3.86v3.6h-3.86ZM518.36 273.46h3.86v3.6h-3.86ZM518.36 279.27h3.86v3.6h-3.86ZM518.36 285.09h3.86v3.6h-3.86ZM518.36 290.91h3.86v3.6h-3.86ZM522.22 221.1h3.86v3.6h-3.86ZM522.22 226.92h3.86v3.6h-3.86ZM522.22 232.73h3.86v3.6h-3.86ZM522.22 238.55h3.86v3.6h-3.86ZM522.22 244.37h3.86v3.6h-3.86ZM522.22 250.19h3.86v3.6h-3.86ZM522.22 256h3.86v3.6h-3.86ZM522.22 261.82h3.86v3.6h-3.86ZM522.22 267.64h3.86v3.6h-3.86ZM522.22 273.46h3.86v3.6h-3.86ZM522.22 279.27h3.86v3.6h-3.86ZM522.22 285.09h3.86v3.6h-3.86ZM522.22 290.91h3.86v3.6h-3.86ZM526.08 221.1h3.86v3.6h-3.86ZM526.08 226.92h3.86v3.6h-3.86ZM526.08 232.73h3.86v3.6h-3.86ZM526.08 238.55h3.86v3.6h-3.86ZM526.08 244.37h3.86v3.6h-3.86ZM526.08 250.19h3.86v3.6h-3.86ZM526.08 256h3.86v3.6h-3.86ZM526.08 261.82h3.86v3.6h-3.86ZM526.08 267.64h3.86v3.6h-3.86ZM526.08 273.46h3.86v3.6h-3.86ZM526.08 279.27h3.86v3.6h-3.86ZM526.08 285.09h3.86v3.6h-3.86ZM526.08 290.91h3.86v3.6h-3.86ZM529.94 221.1h3.86v3.6h-3.86ZM529.94 226.92h3.86v3.6h-3.86ZM529.94 232.73h3.86v3.6h-3.86ZM529.94 238.55h3.86v3.6h-3.86ZM529.94 244.37h3.86v3.6h-3.86ZM529.94 250.19h3.86v3.6h-3.86ZM529.94 256h3.86v3.6h-3.86ZM529.94 261.82h3.86v3.6h-3.86ZM529.94 267.64h3.86v3.6h-3.86ZM529.94 273.46h3.86v3.6h-3.86ZM529.94 279.27h3.86v3.6h-3.86ZM529.94 285.09h3.86v3.6h-3.86ZM529.94 290.91h3.86v3.6h-3.86Z" fill="none" stroke="#9c9c9c" stroke-width="0.7"/>
<rect x="491.7" y="221.3" width="3.2" height="3.2" fill="#fcf8dc"/>
<rect x="491.7" y="227" width="3.2" height="3.4" fill="#f0d840"/>
<rect x="491.6" y="232.2" width="3.4" height="3.8" fill="#ad1e1e"/>
</g>
<rect x="408.8" y="220.1" width="154.1" height="76" fill="none" stroke="#000" stroke-width="1.6"/>
<line x1="408.8" y1="222.9" x2="404.8" y2="222.9" stroke="#000" stroke-width="0.8"/>
<line x1="562.9" y1="222.9" x2="566.9" y2="222.9" stroke="#000" stroke-width="0.8"/>
<line x1="408.8" y1="228.72" x2="406.8" y2="228.72" stroke="#000" stroke-width="0.8"/>
<line x1="562.9" y1="228.72" x2="564.9" y2="228.72" stroke="#000" stroke-width="0.8"/>
<line x1="408.8" y1="234.53" x2="404.8" y2="234.53" stroke="#000" stroke-width="0.8"/>
<line x1="562.9" y1="234.53" x2="566.9" y2="234.53" stroke="#000" stroke-width="0.8"/>
<line x1="408.8" y1="240.35" x2="406.8" y2="240.35" stroke="#000" stroke-width="0.8"/>
<line x1="562.9" y1="240.35" x2="564.9" y2="240.35" stroke="#000" stroke-width="0.8"/>
<line x1="408.8" y1="246.17" x2="404.8" y2="246.17" stroke="#000" stroke-width="0.8"/>
<line x1="562.9" y1="246.17" x2="566.9" y2="246.17" stroke="#000" stroke-width="0.8"/>
<line x1="408.8" y1="251.99" x2="406.8" y2="251.99" stroke="#000" stroke-width="0.8"/>
<line x1="562.9" y1="251.99" x2="564.9" y2="251.99" stroke="#000" stroke-width="0.8"/>
<line x1="408.8" y1="257.81" x2="404.8" y2="257.81" stroke="#000" stroke-width="0.8"/>
<line x1="562.9" y1="257.81" x2="566.9" y2="257.81" stroke="#000" stroke-width="0.8"/>
<line x1="408.8" y1="263.62" x2="406.8" y2="263.62" stroke="#000" stroke-width="0.8"/>
<line x1="562.9" y1="263.62" x2="564.9" y2="263.62" stroke="#000" stroke-width="0.8"/>
<line x1="408.8" y1="269.44" x2="404.8" y2="269.44" stroke="#000" stroke-width="0.8"/>
<line x1="562.9" y1="269.44" x2="566.9" y2="269.44" stroke="#000" stroke-width="0.8"/>
<line x1="408.8" y1="275.26" x2="406.8" y2="275.26" stroke="#000" stroke-width="0.8"/>
<line x1="562.9" y1="275.26" x2="564.9" y2="275.26" stroke="#000" stroke-width="0.8"/>
<line x1="408.8" y1="281.07" x2="404.8" y2="281.07" stroke="#000" stroke-width="0.8"/>
<line x1="562.9" y1="281.07" x2="566.9" y2="281.07" stroke="#000" stroke-width="0.8"/>
<line x1="408.8" y1="286.89" x2="406.8" y2="286.89" stroke="#000" stroke-width="0.8"/>
<line x1="562.9" y1="286.89" x2="564.9" y2="286.89" stroke="#000" stroke-width="0.8"/>
<line x1="408.8" y1="292.71" x2="404.8" y2="292.71" stroke="#000" stroke-width="0.8"/>
<line x1="562.9" y1="292.71" x2="566.9" y2="292.71" stroke="#000" stroke-width="0.8"/>
<text x="402.5" y="226.4" font-size="10" font-family='"Liberation Sans", sans-serif' fill="#111" stroke="#111" stroke-width="0.25" text-anchor="end" >0</text>
<text x="402.5" y="238.03" font-size="10" font-family='"Liberation Sans", sans-serif' fill="#111" stroke="#111" stroke-width="0.25" text-anchor="end" >5</text>
<text x="402.5" y="249.67" font-size="10" font-family='"Liberation Sans", sans-serif' fill="#111" stroke="#111" stroke-width="0.25" text-anchor="end" >10</text>
<text x="402.5" y="261.31" font-size="10" font-family='"Liberation Sans", sans-serif' fill="#111" stroke="#111" stroke-width="0.25" text-anchor="end" >15</text>
<text x="402.5" y="272.94" font-size="10" font-family='"Liberation Sans", sans-serif' fill="#111" stroke="#111" stroke-width="0.25" text-anchor="end" >20</text>
<text x="402.5" y="284.57" font-size="10" font-family='"Liberation Sans", sans-serif' fill="#111" stroke="#111" stroke-width="0.25" text-anchor="end" >25</text>
<text x="402.5" y="296.21" font-size="10" font-family='"Liberation Sans", sans-serif' fill="#111" stroke="#111" stroke-width="0.25" text-anchor="end" >30</text>
<line x1="409.55" y1="220.1" x2="409.55" y2="218.1" stroke="#000" stroke-width="0.8"/>
<line x1="409.55" y1="296.1" x2="409.55" y2="298.1" stroke="#000" stroke-width="0.8"/>
<line x1="424.9" y1="220.1" x2="424.9" y2="216.1" stroke="#000" stroke-width="0.8"/>
<line x1="424.9" y1="296.1" x2="424.9" y2="300.1" stroke="#000" stroke-width="0.8"/>
<line x1="440.25" y1="220.1" x2="440.25" y2="218.1" stroke="#000" stroke-width="0.8"/>
<line x1="440.25" y1="296.1" x2="440.25" y2="298.1" stroke="#000" stroke-width="0.8"/>
<line x1="455.6" y1="220.1" x2="455.6" y2="216.1" stroke="#000" stroke-width="0.8"/>
<line x1="455.6" y1="296.1" x2="455.6" y2="300.1" stroke="#000" stroke-width="0.8"/>
<line x1="470.95" y1="220.1" x2="470.95" y2="218.1" stroke="#000" stroke-width="0.8"/>
<line x1="470.95" y1="296.1" x2="470.95" y2="298.1" stroke="#000" stroke-width="0.8"/>
<line x1="486.3" y1="220.1" x2="486.3" y2="216.1" stroke="#000" stroke-width="0.8"/>
<line x1="486.3" y1="296.1" x2="486.3" y2="300.1" stroke="#000" stroke-width="0.8"/>
<line x1="501.65" y1="220.1" x2="501.65" y2="218.1" stroke="#000" stroke-width="0.8"/>
<line x1="501.65" y1="296.1" x2="501.65" y2="298.1" stroke="#000" stroke-width="0.8"/>
<line x1="517" y1="220.1" x2="517" y2="216.1" stroke="#000" stroke-width="0.8"/>
<line x1="517" y1="296.1" x2="517" y2="300.1" stroke="#000" stroke-width="0.8"/>
<line x1="532.35" y1="220.1" x2="532.35" y2="218.1" stroke="#000" stroke-width="0.8"/>
<line x1="532.35" y1="296.1" x2="532.35" y2="298.1" stroke="#000" stroke-width="0.8"/>
<line x1="547.7" y1="220.1" x2="547.7" y2="216.1" stroke="#000" stroke-width="0.8"/>
<line x1="547.7" y1="296.1" x2="547.7" y2="300.1" stroke="#000" stroke-width="0.8"/>
<text x="426.2" y="311.8" font-size="10.2" font-family='"Liberation Sans", sans-serif' fill="#111" stroke="#111" stroke-width="0.25" text-anchor="middle" textLength="23.3" lengthAdjust="spacingAndGlyphs" >120.8</text>
<text x="456.9" y="311.8" font-size="10.2" font-family='"Liberation Sans", sans-serif' fill="#111" stroke="#111" stroke-width="0.25" text-anchor="middle" textLength="23.3" lengthAdjust="spacingAndGlyphs" >121.0</text>
<text x="487.6" y="311.8" font-size="10.2" font-family='"Liberation Sans", sans-serif' fill="#111" stroke="#111" stroke-width="0.25" text-anchor="middle" textLength="23.3" lengthAdjust="spacingAndGlyphs" >121.2</text>
<text x="518.3" y="311.8" font-size="10.2" font-family='"Liberation Sans", sans-serif' fill="#111" stroke="#111" stroke-width="0.25" text-anchor="middle" textLength="23.3" lengthAdjust="spacingAndGlyphs" >121.4</text>
<text x="549" y="311.8" font-size="10.2" font-family='"Liberation Sans", sans-serif' fill="#111" stroke="#111" stroke-width="0.25" text-anchor="middle" textLength="23.3" lengthAdjust="spacingAndGlyphs" >121.6</text>
<text x="487.3" y="328.2" font-size="10.8" font-family='"Liberation Sans", sans-serif' fill="#111" stroke="#111" stroke-width="0.25" text-anchor="middle" textLength="47.5" lengthAdjust="spacingAndGlyphs" >Longitude</text>
<text x="382.3" y="256.7" font-size="10.8" font-family='"Liberation Sans", sans-serif' fill="#111" stroke="#111" stroke-width="0.25" text-anchor="middle" textLength="53.8" lengthAdjust="spacingAndGlyphs" transform="rotate(-90 382.3 256.7)" >Depth (km)</text>
<line x1="495.6" y1="228.9" x2="533.6" y2="238.1" stroke="#1a1a1a" stroke-width="0.9"/>
<line x1="495.6" y1="236.4" x2="534" y2="257.3" stroke="#1a1a1a" stroke-width="0.9"/>
<circle cx="493.3" cy="234.2" r="5.6" fill="none" stroke="#000" stroke-width="0.9"/>
<path d="M485.6 232.3L487.08 235.86L490.93 236.17L488 238.68L488.89 242.43L485.6 240.42L482.31 242.43L483.2 238.68L480.27 236.17L484.12 235.86Z" fill="none" stroke="#2c4cb0" stroke-width="1.25" stroke-linejoin="miter"/>
<text x="535.3" y="242.9" font-size="12.8" font-family='"Liberation Sans", sans-serif' fill="#111" stroke="#111" stroke-width="0.25" textLength="24" lengthAdjust="spacingAndGlyphs" >20%</text>
<text x="535.8" y="262.8" font-size="12.8" font-family='"Liberation Sans", sans-serif' fill="#111" stroke="#111" stroke-width="0.25" textLength="24" lengthAdjust="spacingAndGlyphs" >76%</text>
<linearGradient id="gb" x1="0" y1="1" x2="0" y2="0"><stop offset="0" stop-color="#fffff0"/><stop offset="0.1" stop-color="#faf2a0"/><stop offset="0.2" stop-color="#f2e246"/><stop offset="0.3" stop-color="#f2c432"/><stop offset="0.4" stop-color="#f08c23"/><stop offset="0.5" stop-color="#e8501e"/><stop offset="0.6" stop-color="#dc3223"/><stop offset="0.7" stop-color="#aa2823"/><stop offset="0.8" stop-color="#6e1e1c"/><stop offset="0.9" stop-color="#3c1412"/><stop offset="1" stop-color="#190c0c"/></linearGradient>
<rect x="582" y="220.2" width="9.7" height="76.5" fill="url(#gb)" stroke="#000" stroke-width="1.5"/>
<line x1="591.7" y1="296.7" x2="595.3" y2="296.7" stroke="#000" stroke-width="0.8"/>
<line x1="591.7" y1="289.05" x2="593.7" y2="289.05" stroke="#000" stroke-width="0.8"/>
<line x1="591.7" y1="281.4" x2="595.3" y2="281.4" stroke="#000" stroke-width="0.8"/>
<line x1="591.7" y1="273.75" x2="593.7" y2="273.75" stroke="#000" stroke-width="0.8"/>
<line x1="591.7" y1="266.1" x2="595.3" y2="266.1" stroke="#000" stroke-width="0.8"/>
<line x1="591.7" y1="258.45" x2="593.7" y2="258.45" stroke="#000" stroke-width="0.8"/>
<line x1="591.7" y1="250.8" x2="595.3" y2="250.8" stroke="#000" stroke-width="0.8"/>
<line x1="591.7" y1="243.15" x2="593.7" y2="243.15" stroke="#000" stroke-width="0.8"/>
<line x1="591.7" y1="235.5" x2="595.3" y2="235.5" stroke="#000" stroke-width="0.8"/>
<line x1="591.7" y1="227.85" x2="593.7" y2="227.85" stroke="#000" stroke-width="0.8"/>
<line x1="591.7" y1="220.2" x2="595.3" y2="220.2" stroke="#000" stroke-width="0.8"/>
<text x="599.8" y="300.3" font-size="10.2" font-family='"Liberation Sans", sans-serif' fill="#111" stroke="#111" stroke-width="0.25" textLength="13.1" lengthAdjust="spacingAndGlyphs" >0.0</text>
<text x="599.8" y="285" font-size="10.2" font-family='"Liberation Sans", sans-serif' fill="#111" stroke="#111" stroke-width="0.25" textLength="13.1" lengthAdjust="spacingAndGlyphs" >0.2</text>
<text x="599.8" y="269.7" font-size="10.2" font-family='"Liberation Sans", sans-serif' fill="#111" stroke="#111" stroke-width="0.25" textLength="13.1" lengthAdjust="spacingAndGlyphs" >0.4</text>
<text x="599.8" y="254.4" font-size="10.2" font-family='"Liberation Sans", sans-serif' fill="#111" stroke="#111" stroke-width="0.25" textLength="13.1" lengthAdjust="spacingAndGlyphs" >0.6</text>
<text x="599.8" y="239.1" font-size="10.2" font-family='"Liberation Sans", sans-serif' fill="#111" stroke="#111" stroke-width="0.25" textLength="13.1" lengthAdjust="spacingAndGlyphs" >0.8</text>
<text x="599.8" y="223.8" font-size="10.2" font-family='"Liberation Sans", sans-serif' fill="#111" stroke="#111" stroke-width="0.25" textLength="13.1" lengthAdjust="spacingAndGlyphs" >1.0</text>
<text x="624.6" y="262" font-size="10.8" font-family='"Liberation Sans", sans-serif' fill="#111" stroke="#111" stroke-width="0.25" text-anchor="middle" textLength="50.3" lengthAdjust="spacingAndGlyphs" transform="rotate(90 624.6 262)" >Probability</text>
<line x1="439.4" y1="341.1" x2="439.4" y2="337.1" stroke="#000" stroke-width="0.8"/>
<line x1="439.4" y1="437" x2="439.4" y2="441" stroke="#000" stroke-width="0.8"/>
<line x1="449.06" y1="341.1" x2="449.06" y2="339.1" stroke="#000" stroke-width="0.8"/>
<line x1="449.06" y1="437" x2="449.06" y2="439" stroke="#000" stroke-width="0.8"/>
<line x1="458.72" y1="341.1" x2="458.72" y2="337.1" stroke="#000" stroke-width="0.8"/>
<line x1="458.72" y1="437" x2="458.72" y2="441" stroke="#000" stroke-width="0.8"/>
<line x1="468.38" y1="341.1" x2="468.38" y2="339.1" stroke="#000" stroke-width="0.8"/>
<line x1="468.38" y1="437" x2="468.38" y2="439" stroke="#000" stroke-width="0.8"/>
<line x1="478.04" y1="341.1" x2="478.04" y2="337.1" stroke="#000" stroke-width="0.8"/>
<line x1="478.04" y1="437" x2="478.04" y2="441" stroke="#000" stroke-width="0.8"/>
<line x1="487.7" y1="341.1" x2="487.7" y2="339.1" stroke="#000" stroke-width="0.8"/>
<line x1="487.7" y1="437" x2="487.7" y2="439" stroke="#000" stroke-width="0.8"/>
<line x1="497.36" y1="341.1" x2="497.36" y2="337.1" stroke="#000" stroke-width="0.8"/>
<line x1="497.36" y1="437" x2="497.36" y2="441" stroke="#000" stroke-width="0.8"/>
<line x1="507.02" y1="341.1" x2="507.02" y2="339.1" stroke="#000" stroke-width="0.8"/>
<line x1="507.02" y1="437" x2="507.02" y2="439" stroke="#000" stroke-width="0.8"/>
<line x1="516.68" y1="341.1" x2="516.68" y2="337.1" stroke="#000" stroke-width="0.8"/>
<line x1="516.68" y1="437" x2="516.68" y2="441" stroke="#000" stroke-width="0.8"/>
<line x1="526.34" y1="341.1" x2="526.34" y2="339.1" stroke="#000" stroke-width="0.8"/>
<line x1="526.34" y1="437" x2="526.34" y2="439" stroke="#000" stroke-width="0.8"/>
<line x1="536" y1="341.1" x2="536" y2="337.1" stroke="#000" stroke-width="0.8"/>
<line x1="536" y1="437" x2="536" y2="441" stroke="#000" stroke-width="0.8"/>
<line x1="545.66" y1="341.1" x2="545.66" y2="339.1" stroke="#000" stroke-width="0.8"/>
<line x1="545.66" y1="437" x2="545.66" y2="439" stroke="#000" stroke-width="0.8"/>
<line x1="555.32" y1="341.1" x2="555.32" y2="337.1" stroke="#000" stroke-width="0.8"/>
<line x1="555.32" y1="437" x2="555.32" y2="441" stroke="#000" stroke-width="0.8"/>
<line x1="564.98" y1="341.1" x2="564.98" y2="339.1" stroke="#000" stroke-width="0.8"/>
<line x1="564.98" y1="437" x2="564.98" y2="439" stroke="#000" stroke-width="0.8"/>
<line x1="574.64" y1="341.1" x2="574.64" y2="337.1" stroke="#000" stroke-width="0.8"/>
<line x1="574.64" y1="437" x2="574.64" y2="441" stroke="#000" stroke-width="0.8"/>
<line x1="584.3" y1="341.1" x2="584.3" y2="339.1" stroke="#000" stroke-width="0.8"/>
<line x1="584.3" y1="437" x2="584.3" y2="439" stroke="#000" stroke-width="0.8"/>
<line x1="593.96" y1="341.1" x2="593.96" y2="337.1" stroke="#000" stroke-width="0.8"/>
<line x1="593.96" y1="437" x2="593.96" y2="441" stroke="#000" stroke-width="0.8"/>
<line x1="603.62" y1="341.1" x2="603.62" y2="339.1" stroke="#000" stroke-width="0.8"/>
<line x1="603.62" y1="437" x2="603.62" y2="439" stroke="#000" stroke-width="0.8"/>
<line x1="613.28" y1="341.1" x2="613.28" y2="337.1" stroke="#000" stroke-width="0.8"/>
<line x1="613.28" y1="437" x2="613.28" y2="441" stroke="#000" stroke-width="0.8"/>
<line x1="622.94" y1="341.1" x2="622.94" y2="339.1" stroke="#000" stroke-width="0.8"/>
<line x1="622.94" y1="437" x2="622.94" y2="439" stroke="#000" stroke-width="0.8"/>
<line x1="632.6" y1="341.1" x2="632.6" y2="337.1" stroke="#000" stroke-width="0.8"/>
<line x1="632.6" y1="437" x2="632.6" y2="441" stroke="#000" stroke-width="0.8"/>
<line x1="439.4" y1="437" x2="435.4" y2="437" stroke="#000" stroke-width="0.8"/>
<line x1="632.6" y1="437" x2="636.6" y2="437" stroke="#000" stroke-width="0.8"/>
<line x1="439.4" y1="421.02" x2="437.4" y2="421.02" stroke="#000" stroke-width="0.8"/>
<line x1="632.6" y1="421.02" x2="634.6" y2="421.02" stroke="#000" stroke-width="0.8"/>
<line x1="439.4" y1="405.03" x2="435.4" y2="405.03" stroke="#000" stroke-width="0.8"/>
<line x1="632.6" y1="405.03" x2="636.6" y2="405.03" stroke="#000" stroke-width="0.8"/>
<line x1="439.4" y1="389.05" x2="437.4" y2="389.05" stroke="#000" stroke-width="0.8"/>
<line x1="632.6" y1="389.05" x2="634.6" y2="389.05" stroke="#000" stroke-width="0.8"/>
<line x1="439.4" y1="373.07" x2="435.4" y2="373.07" stroke="#000" stroke-width="0.8"/>
<line x1="632.6" y1="373.07" x2="636.6" y2="373.07" stroke="#000" stroke-width="0.8"/>
<line x1="439.4" y1="357.08" x2="437.4" y2="357.08" stroke="#000" stroke-width="0.8"/>
<line x1="632.6" y1="357.08" x2="634.6" y2="357.08" stroke="#000" stroke-width="0.8"/>
<line x1="439.4" y1="341.1" x2="435.4" y2="341.1" stroke="#000" stroke-width="0.8"/>
<line x1="632.6" y1="341.1" x2="636.6" y2="341.1" stroke="#000" stroke-width="0.8"/>
<polyline points="505,437 515.2,436.8 517.7,436.3 520.3,436.8 522,434.7 523.7,431.3 525,427.6 526.2,431.3 527.1,434.7 528.4,414.4 529.6,385.5 530.5,372.7 531,394 531.7,427.9 532.2,435.6 533,436.8 540,437" fill="none" stroke="#111" stroke-width="1.2" stroke-linejoin="round" stroke-linecap="round" />
<rect x="439.4" y="341.1" width="193.2" height="95.9" fill="none" stroke="#000" stroke-width="1.7"/>
<text x="432.6" y="440.6" font-size="10" font-family='"Liberation Sans", sans-serif' fill="#111" stroke="#111" stroke-width="0.25" text-anchor="end" textLength="12.9" lengthAdjust="spacingAndGlyphs" >0.0</text>
<text x="432.6" y="408.63" font-size="10" font-family='"Liberation Sans", sans-serif' fill="#111" stroke="#111" stroke-width="0.25" text-anchor="end" textLength="12.9" lengthAdjust="spacingAndGlyphs" >0.1</text>
<text x="432.6" y="376.67" font-size="10" font-family='"Liberation Sans", sans-serif' fill="#111" stroke="#111" stroke-width="0.25" text-anchor="end" textLength="12.9" lengthAdjust="spacingAndGlyphs" >0.2</text>
<text x="432.6" y="344.7" font-size="10" font-family='"Liberation Sans", sans-serif' fill="#111" stroke="#111" stroke-width="0.25" text-anchor="end" textLength="12.9" lengthAdjust="spacingAndGlyphs" >0.3</text>
<text x="439.4" y="452" font-size="10.3" font-family='"Liberation Sans", sans-serif' fill="#111" stroke="#111" stroke-width="0.25" text-anchor="middle" >0</text>
<text x="458.72" y="452" font-size="10.3" font-family='"Liberation Sans", sans-serif' fill="#111" stroke="#111" stroke-width="0.25" text-anchor="middle" >2</text>
<text x="478.04" y="452" font-size="10.3" font-family='"Liberation Sans", sans-serif' fill="#111" stroke="#111" stroke-width="0.25" text-anchor="middle" >4</text>
<text x="497.36" y="452" font-size="10.3" font-family='"Liberation Sans", sans-serif' fill="#111" stroke="#111" stroke-width="0.25" text-anchor="middle" >6</text>
<text x="516.68" y="452" font-size="10.3" font-family='"Liberation Sans", sans-serif' fill="#111" stroke="#111" stroke-width="0.25" text-anchor="middle" >8</text>
<text x="536" y="452" font-size="10.3" font-family='"Liberation Sans", sans-serif' fill="#111" stroke="#111" stroke-width="0.25" text-anchor="middle" >10</text>
<text x="555.32" y="452" font-size="10.3" font-family='"Liberation Sans", sans-serif' fill="#111" stroke="#111" stroke-width="0.25" text-anchor="middle" >12</text>
<text x="574.64" y="452" font-size="10.3" font-family='"Liberation Sans", sans-serif' fill="#111" stroke="#111" stroke-width="0.25" text-anchor="middle" >14</text>
<text x="593.96" y="452" font-size="10.3" font-family='"Liberation Sans", sans-serif' fill="#111" stroke="#111" stroke-width="0.25" text-anchor="middle" >16</text>
<text x="613.28" y="452" font-size="10.3" font-family='"Liberation Sans", sans-serif' fill="#111" stroke="#111" stroke-width="0.25" text-anchor="middle" >18</text>
<text x="632.6" y="452" font-size="10.3" font-family='"Liberation Sans", sans-serif' fill="#111" stroke="#111" stroke-width="0.25" text-anchor="middle" >20</text>
<text x="410.3" y="388.1" font-size="10.8" font-family='"Liberation Sans", sans-serif' fill="#111" stroke="#111" stroke-width="0.25" text-anchor="middle" textLength="50.9" lengthAdjust="spacingAndGlyphs" transform="rotate(-90 410.3 388.1)" >Probability</text>
<text x="496.9" y="468.5" font-size="10.8" font-family='"Liberation Sans", sans-serif' fill="#111" stroke="#111" stroke-width="0.25" textLength="85.4" lengthAdjust="spacingAndGlyphs" >Centroid delay (s)</text>
<text x="540" y="370.3" font-size="10.3" font-family='"Liberation Sans", sans-serif' fill="#111" stroke="#111" stroke-width="0.25" textLength="25.5" lengthAdjust="spacingAndGlyphs" >9.40 s</text>
<text x="352.8" y="14.6" font-size="15.8" font-family='"Liberation Serif", serif' fill="#111" stroke="#111" stroke-width="0.2" >(b)</text>
</svg></body></html>
